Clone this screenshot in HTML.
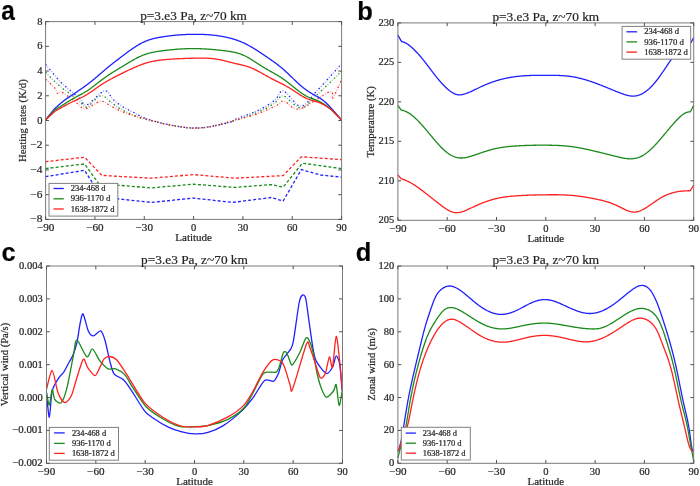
<!DOCTYPE html><html><head><meta charset="utf-8"><style>html,body{margin:0;padding:0;background:#fff;overflow:hidden}svg{display:block}text{font-family:"Liberation Serif",serif;stroke:#333;stroke-width:0.22px}</style></head><body>
<svg width="700" height="486" viewBox="0 0 700 486" style="will-change:transform">
<rect width="700" height="486" fill="#fff"/>
<g>
<path d="M45.6 64.3 C46.85 65.82 50.52 70.37 53.1 73.4 C55.68 76.43 58.25 79.65 61.1 82.5 C63.95 85.35 67.17 87.92 70.2 90.5 C73.23 93.08 76.53 95.62 79.3 98 C82.07 100.38 82.6 106 86.8 104.8 C91 103.6 100.15 91.72 104.5 90.8 C108.85 89.88 109.97 96.7 112.9 99.3 C115.83 101.9 118.77 104.27 122.1 106.4 C125.43 108.53 129.2 110.18 132.9 112.1 C136.6 114.02 139.78 116.13 144.3 117.9 C148.82 119.67 154.55 121.32 160 122.7 C165.45 124.08 171.42 125.32 177 126.2 C182.58 127.08 188 127.93 193.5 128 C199 128.07 203.92 127.57 210 126.6 C216.08 125.63 225.48 123.53 230 122.2 C234.52 120.87 233.05 120.28 237.1 118.6 C241.15 116.92 249.53 114.13 254.3 112.1 C259.07 110.07 262.13 108.53 265.7 106.4 C269.27 104.27 272.72 101.87 275.7 99.3 C278.68 96.73 279.4 89.85 283.6 91 C287.8 92.15 295.37 106.2 300.9 106.2 C306.43 106.2 310.32 97.73 316.8 91 C323.28 84.27 335.68 70.33 339.8 65.8 C343.92 61.27 341.22 64.13 341.5 63.8" stroke="#2020ff" stroke-width="1.3" fill="none" stroke-dasharray="1.5 4.4"/>
<path d="M45.6 64.3 C46.85 65.82 50.52 70.37 53.1 73.4 C55.68 76.43 58.25 79.65 61.1 82.5 C63.95 85.35 67.17 87.92 70.2 90.5 C73.23 93.08 76.53 95.62 79.3 98 C82.07 100.38 82.6 106 86.8 104.8 C91 103.6 100.15 91.72 104.5 90.8 C108.85 89.88 109.97 96.7 112.9 99.3 C115.83 101.9 118.77 104.27 122.1 106.4 C125.43 108.53 129.2 110.18 132.9 112.1 C136.6 114.02 139.78 116.13 144.3 117.9 C148.82 119.67 154.55 121.32 160 122.7 C165.45 124.08 171.42 125.32 177 126.2 C182.58 127.08 188 127.93 193.5 128 C199 128.07 203.92 127.57 210 126.6 C216.08 125.63 225.48 123.53 230 122.2 C234.52 120.87 233.05 120.28 237.1 118.6 C241.15 116.92 249.53 114.13 254.3 112.1 C259.07 110.07 262.13 108.53 265.7 106.4 C269.27 104.27 272.72 101.87 275.7 99.3 C278.68 96.73 279.4 89.85 283.6 91 C287.8 92.15 295.37 106.2 300.9 106.2 C306.43 106.2 310.32 97.73 316.8 91 C323.28 84.27 335.68 70.33 339.8 65.8 C343.92 61.27 341.22 64.13 341.5 63.8" stroke="#2020ff" stroke-width="1.3" fill="none" stroke-dasharray="1.2 4.7" stroke-dashoffset="-2.95" opacity="0.4"/>
<path d="M45.6 72.3 C47.03 73.73 51.25 78.13 54.2 80.9 C57.15 83.67 60.18 86.4 63.3 88.9 C66.42 91.4 70.05 93.67 72.9 95.9 C75.75 98.13 78.08 100.45 80.4 102.3 C82.72 104.15 83.4 108.1 86.8 107 C90.2 105.9 96.82 96.52 100.8 95.7 C104.78 94.88 107.5 99.95 110.7 102.1 C113.9 104.25 116.55 106.57 120 108.6 C123.45 110.63 127.58 112.63 131.4 114.3 C135.22 115.97 138.62 117.3 142.9 118.6 C147.18 119.9 151.42 120.82 157.1 122.1 C162.78 123.38 170.93 125.3 177 126.3 C183.07 127.3 188 128.03 193.5 128.1 C199 128.17 204.25 127.62 210 126.7 C215.75 125.78 221.82 124.32 228 122.6 C234.18 120.88 241.05 118.62 247.1 116.4 C253.15 114.18 259.53 111.68 264.3 109.3 C269.07 106.92 272.48 104.32 275.7 102.1 C278.92 99.88 279.4 95.02 283.6 96 C287.8 96.98 295.37 108.17 300.9 108 C306.43 107.83 310.32 100.83 316.8 95 C323.28 89.17 335.68 76.92 339.8 73 C343.92 69.08 341.22 71.75 341.5 71.5" stroke="#1a8a1a" stroke-width="1.3" fill="none" stroke-dasharray="1.5 4.4"/>
<path d="M45.6 72.3 C47.03 73.73 51.25 78.13 54.2 80.9 C57.15 83.67 60.18 86.4 63.3 88.9 C66.42 91.4 70.05 93.67 72.9 95.9 C75.75 98.13 78.08 100.45 80.4 102.3 C82.72 104.15 83.4 108.1 86.8 107 C90.2 105.9 96.82 96.52 100.8 95.7 C104.78 94.88 107.5 99.95 110.7 102.1 C113.9 104.25 116.55 106.57 120 108.6 C123.45 110.63 127.58 112.63 131.4 114.3 C135.22 115.97 138.62 117.3 142.9 118.6 C147.18 119.9 151.42 120.82 157.1 122.1 C162.78 123.38 170.93 125.3 177 126.3 C183.07 127.3 188 128.03 193.5 128.1 C199 128.17 204.25 127.62 210 126.7 C215.75 125.78 221.82 124.32 228 122.6 C234.18 120.88 241.05 118.62 247.1 116.4 C253.15 114.18 259.53 111.68 264.3 109.3 C269.07 106.92 272.48 104.32 275.7 102.1 C278.92 99.88 279.4 95.02 283.6 96 C287.8 96.98 295.37 108.17 300.9 108 C306.43 107.83 310.32 100.83 316.8 95 C323.28 89.17 335.68 76.92 339.8 73 C343.92 69.08 341.22 71.75 341.5 71.5" stroke="#1a8a1a" stroke-width="1.3" fill="none" stroke-dasharray="1.2 4.7" stroke-dashoffset="-2.95" opacity="0.4"/>
<path d="M45.6 79.3 C47.12 80.72 52.73 85.48 54.7 87.8 C56.67 90.12 56.33 92.48 57.4 93.2 C58.47 93.92 59.4 91.65 61.1 92.1 C62.8 92.55 65.1 94.2 67.6 95.9 C70.1 97.6 73.17 100.17 76.1 102.3 C79.03 104.43 81.08 108.87 85.2 108.7 C89.32 108.53 96.43 101.68 100.8 101.3 C105.17 100.92 107.72 104.6 111.4 106.4 C115.08 108.2 118.85 110.43 122.9 112.1 C126.95 113.77 131.18 115.08 135.7 116.4 C140.22 117.72 145 118.68 150 120 C155 121.32 160.7 123.18 165.7 124.3 C170.7 125.42 175.37 126.05 180 126.7 C184.63 127.35 188.5 128.18 193.5 128.2 C198.5 128.22 203.43 128.07 210 126.8 C216.57 125.53 225.52 122.57 232.9 120.6 C240.28 118.63 248.35 116.88 254.3 115 C260.25 113.12 264.55 111.08 268.6 109.3 C272.65 107.52 275.98 105.65 278.6 104.3 C281.22 102.95 280.82 100.42 284.3 101.2 C287.78 101.98 291.93 110.58 299.5 109 C307.07 107.42 324.18 93.5 329.7 91.7 C335.22 89.9 330.67 100.12 332.6 98.2 C334.53 96.28 339.85 83.2 341.3 80.2" stroke="#ff2020" stroke-width="1.3" fill="none" stroke-dasharray="1.5 4.4"/>
<path d="M45.6 79.3 C47.12 80.72 52.73 85.48 54.7 87.8 C56.67 90.12 56.33 92.48 57.4 93.2 C58.47 93.92 59.4 91.65 61.1 92.1 C62.8 92.55 65.1 94.2 67.6 95.9 C70.1 97.6 73.17 100.17 76.1 102.3 C79.03 104.43 81.08 108.87 85.2 108.7 C89.32 108.53 96.43 101.68 100.8 101.3 C105.17 100.92 107.72 104.6 111.4 106.4 C115.08 108.2 118.85 110.43 122.9 112.1 C126.95 113.77 131.18 115.08 135.7 116.4 C140.22 117.72 145 118.68 150 120 C155 121.32 160.7 123.18 165.7 124.3 C170.7 125.42 175.37 126.05 180 126.7 C184.63 127.35 188.5 128.18 193.5 128.2 C198.5 128.22 203.43 128.07 210 126.8 C216.57 125.53 225.52 122.57 232.9 120.6 C240.28 118.63 248.35 116.88 254.3 115 C260.25 113.12 264.55 111.08 268.6 109.3 C272.65 107.52 275.98 105.65 278.6 104.3 C281.22 102.95 280.82 100.42 284.3 101.2 C287.78 101.98 291.93 110.58 299.5 109 C307.07 107.42 324.18 93.5 329.7 91.7 C335.22 89.9 330.67 100.12 332.6 98.2 C334.53 96.28 339.85 83.2 341.3 80.2" stroke="#ff2020" stroke-width="1.3" fill="none" stroke-dasharray="1.2 4.7" stroke-dashoffset="-2.95" opacity="0.4"/>
<path d="M45.5 176.7 L84.6 170.3 L101.8 198 L115.7 198.6 L151.1 202.4 L193.5 198.1 L232.7 202.4 L271.3 197.5 L283.1 201.1 L301.3 169.6 L320.6 175 L341.5 177.1" stroke="#2020ff" stroke-width="1.3" fill="none" stroke-dasharray="3 2.1"/>
<path d="M45.5 168.6 L84.6 163.9 L98.6 183.6 L151.1 187.9 L193.5 184.2 L234.9 187.4 L271.3 184.6 L283.1 187.2 L302.4 163.2 L341.5 168.6" stroke="#1a8a1a" stroke-width="1.3" fill="none" stroke-dasharray="3 2.1"/>
<path d="M45.5 161.7 L84.6 157.2 L101.8 175.4 L151.1 178.2 L193.5 174.6 L234.9 178.2 L283.1 175.6 L301.3 156.8 L341.5 159.6" stroke="#ff2020" stroke-width="1.3" fill="none" stroke-dasharray="3 2.1"/>
<path d="M45.5 120 L54.2 109.2 L54.7 108.73 L55.2 108.27 L55.7 107.8 L56.2 107.34 L56.7 106.87 L57.2 106.41 L57.7 105.95 L58.2 105.5 L58.7 105.05 L59.2 104.6 L59.7 104.16 L60.2 103.73 L60.7 103.3 L61.2 102.87 L61.7 102.45 L62.2 102.04 L62.7 101.64 L63.2 101.24 L63.7 100.86 L64.2 100.47 L64.7 100.1 L65.2 99.73 L65.7 99.37 L66.2 99.01 L66.7 98.65 L67.2 98.3 L67.7 97.96 L68.2 97.61 L68.7 97.27 L69.2 96.94 L69.7 96.6 L70.2 96.27 L70.7 95.93 L71.2 95.6 L71.7 95.27 L72.2 94.94 L72.7 94.6 L73.2 94.27 L73.7 93.94 L74.2 93.61 L74.7 93.27 L75.2 92.94 L75.7 92.6 L76.2 92.27 L76.7 91.93 L77.2 91.6 L77.7 91.26 L78.2 90.92 L78.7 90.58 L79.2 90.24 L79.7 89.9 L80.2 89.55 L80.7 89.21 L81.2 88.86 L81.7 88.51 L82.2 88.16 L82.7 87.81 L83.2 87.45 L83.7 87.1 L84.2 86.74 L84.7 86.38 L85.2 86.02 L85.7 85.65 L86.2 85.28 L86.7 84.91 L87.2 84.54 L87.7 84.17 L88.2 83.79 L88.7 83.41 L89.2 83.03 L89.7 82.64 L90.2 82.25 L90.7 81.86 L91.2 81.47 L91.7 81.07 L92.2 80.67 L92.7 80.27 L93.2 79.86 L93.7 79.45 L94.2 79.04 L94.7 78.63 L95.2 78.21 L95.7 77.79 L96.2 77.36 L96.7 76.94 L97.2 76.51 L97.7 76.08 L98.2 75.65 L98.7 75.22 L99.2 74.79 L99.7 74.36 L100.2 73.92 L100.7 73.49 L101.2 73.06 L101.7 72.62 L102.2 72.19 L102.7 71.76 L103.2 71.33 L103.7 70.9 L104.2 70.47 L104.7 70.05 L105.2 69.62 L105.7 69.2 L106.2 68.78 L106.7 68.36 L107.2 67.95 L107.7 67.53 L108.2 67.12 L108.7 66.71 L109.2 66.31 L109.7 65.9 L110.2 65.5 L110.7 65.09 L111.2 64.69 L111.7 64.3 L112.2 63.9 L112.7 63.5 L113.2 63.11 L113.7 62.72 L114.2 62.33 L114.7 61.94 L115.2 61.55 L115.7 61.16 L116.2 60.77 L116.7 60.39 L117.2 60.01 L117.7 59.62 L118.2 59.24 L118.7 58.86 L119.2 58.48 L119.7 58.1 L120.2 57.72 L120.7 57.34 L121.2 56.96 L121.7 56.58 L122.2 56.2 L122.7 55.83 L123.2 55.45 L123.7 55.07 L124.2 54.7 L124.7 54.32 L125.2 53.94 L125.7 53.57 L126.2 53.2 L126.7 52.83 L127.2 52.45 L127.7 52.09 L128.2 51.72 L128.7 51.35 L129.2 50.99 L129.7 50.63 L130.2 50.27 L130.7 49.91 L131.2 49.56 L131.7 49.21 L132.2 48.86 L132.7 48.52 L133.2 48.17 L133.7 47.84 L134.2 47.5 L134.7 47.17 L135.2 46.84 L135.7 46.52 L136.2 46.2 L136.7 45.89 L137.2 45.58 L137.7 45.28 L138.2 44.98 L138.7 44.68 L139.2 44.39 L139.7 44.11 L140.2 43.83 L140.7 43.56 L141.2 43.29 L141.7 43.03 L142.2 42.78 L142.7 42.53 L143.2 42.29 L143.7 42.05 L144.2 41.83 L144.7 41.6 L145.2 41.39 L145.7 41.18 L146.2 40.98 L146.7 40.78 L147.2 40.59 L147.7 40.41 L148.2 40.23 L148.7 40.05 L149.2 39.89 L149.7 39.72 L150.2 39.56 L150.7 39.41 L151.2 39.26 L151.7 39.12 L152.2 38.98 L152.7 38.85 L153.2 38.71 L153.7 38.59 L154.2 38.46 L154.7 38.35 L155.2 38.23 L155.7 38.12 L156.2 38.01 L156.7 37.9 L157.2 37.8 L157.7 37.7 L158.2 37.6 L158.7 37.51 L159.2 37.42 L159.7 37.33 L160.2 37.24 L160.7 37.16 L161.2 37.07 L161.7 36.99 L162.2 36.91 L162.7 36.83 L163.2 36.75 L163.7 36.68 L164.2 36.6 L164.7 36.53 L165.2 36.46 L165.7 36.38 L166.2 36.31 L166.7 36.25 L167.2 36.18 L167.7 36.11 L168.2 36.05 L168.7 35.98 L169.2 35.92 L169.7 35.86 L170.2 35.8 L170.7 35.74 L171.2 35.68 L171.7 35.62 L172.2 35.57 L172.7 35.51 L173.2 35.46 L173.7 35.41 L174.2 35.36 L174.7 35.31 L175.2 35.26 L175.7 35.21 L176.2 35.17 L176.7 35.12 L177.2 35.08 L177.7 35.03 L178.2 34.99 L178.7 34.95 L179.2 34.91 L179.7 34.88 L180.2 34.84 L180.7 34.81 L181.2 34.77 L181.7 34.74 L182.2 34.71 L182.7 34.68 L183.2 34.65 L183.7 34.62 L184.2 34.59 L184.7 34.57 L185.2 34.54 L185.7 34.52 L186.2 34.49 L186.7 34.47 L187.2 34.45 L187.7 34.43 L188.2 34.42 L188.7 34.4 L189.2 34.39 L189.7 34.37 L190.2 34.36 L190.7 34.35 L191.2 34.33 L191.7 34.33 L192.2 34.32 L192.7 34.31 L193.2 34.3 L193.7 34.3 L194.2 34.29 L194.7 34.29 L195.2 34.29 L195.7 34.29 L196.2 34.29 L196.7 34.29 L197.2 34.3 L197.7 34.3 L198.2 34.31 L198.7 34.31 L199.2 34.32 L199.7 34.33 L200.2 34.34 L200.7 34.36 L201.2 34.37 L201.7 34.39 L202.2 34.4 L202.7 34.42 L203.2 34.44 L203.7 34.46 L204.2 34.48 L204.7 34.51 L205.2 34.53 L205.7 34.56 L206.2 34.59 L206.7 34.62 L207.2 34.65 L207.7 34.69 L208.2 34.72 L208.7 34.76 L209.2 34.8 L209.7 34.84 L210.2 34.88 L210.7 34.92 L211.2 34.97 L211.7 35.02 L212.2 35.07 L212.7 35.12 L213.2 35.17 L213.7 35.22 L214.2 35.28 L214.7 35.34 L215.2 35.4 L215.7 35.46 L216.2 35.52 L216.7 35.59 L217.2 35.66 L217.7 35.73 L218.2 35.8 L218.7 35.87 L219.2 35.95 L219.7 36.03 L220.2 36.11 L220.7 36.19 L221.2 36.27 L221.7 36.36 L222.2 36.45 L222.7 36.54 L223.2 36.63 L223.7 36.72 L224.2 36.82 L224.7 36.92 L225.2 37.02 L225.7 37.12 L226.2 37.23 L226.7 37.34 L227.2 37.45 L227.7 37.56 L228.2 37.68 L228.7 37.8 L229.2 37.92 L229.7 38.04 L230.2 38.17 L230.7 38.3 L231.2 38.44 L231.7 38.57 L232.2 38.71 L232.7 38.86 L233.2 39 L233.7 39.15 L234.2 39.3 L234.7 39.46 L235.2 39.62 L235.7 39.78 L236.2 39.95 L236.7 40.12 L237.2 40.3 L237.7 40.47 L238.2 40.66 L238.7 40.84 L239.2 41.03 L239.7 41.23 L240.2 41.43 L240.7 41.63 L241.2 41.84 L241.7 42.05 L242.2 42.26 L242.7 42.48 L243.2 42.71 L243.7 42.94 L244.2 43.17 L244.7 43.41 L245.2 43.65 L245.7 43.9 L246.2 44.15 L246.7 44.41 L247.2 44.67 L247.7 44.93 L248.2 45.2 L248.7 45.47 L249.2 45.74 L249.7 46.02 L250.2 46.3 L250.7 46.58 L251.2 46.87 L251.7 47.16 L252.2 47.46 L252.7 47.75 L253.2 48.05 L253.7 48.36 L254.2 48.66 L254.7 48.97 L255.2 49.28 L255.7 49.59 L256.2 49.91 L256.7 50.22 L257.2 50.54 L257.7 50.87 L258.2 51.19 L258.7 51.51 L259.2 51.84 L259.7 52.17 L260.2 52.5 L260.7 52.83 L261.2 53.16 L261.7 53.5 L262.2 53.84 L262.7 54.17 L263.2 54.51 L263.7 54.85 L264.2 55.19 L264.7 55.53 L265.2 55.87 L265.7 56.21 L266.2 56.55 L266.7 56.89 L267.2 57.24 L267.7 57.58 L268.2 57.92 L268.7 58.27 L269.2 58.61 L269.7 58.96 L270.2 59.3 L270.7 59.65 L271.2 60 L271.7 60.35 L272.2 60.7 L272.7 61.06 L273.2 61.41 L273.7 61.77 L274.2 62.13 L274.7 62.5 L275.2 62.86 L275.7 63.23 L276.2 63.6 L276.7 63.98 L277.2 64.36 L277.7 64.74 L278.2 65.12 L278.7 65.51 L279.2 65.91 L279.7 66.3 L280.2 66.71 L280.7 67.11 L281.2 67.52 L281.7 67.94 L282.2 68.36 L282.7 68.78 L283.2 69.21 L283.7 69.65 L284.2 70.09 L284.7 70.54 L285.2 70.99 L285.7 71.44 L286.2 71.91 L286.7 72.37 L287.2 72.84 L287.7 73.31 L288.2 73.79 L288.7 74.27 L289.2 74.75 L289.7 75.23 L290.2 75.71 L290.7 76.2 L291.2 76.68 L291.7 77.17 L292.2 77.66 L292.7 78.14 L293.2 78.63 L293.7 79.11 L294.2 79.6 L294.7 80.08 L295.2 80.56 L295.7 81.03 L296.2 81.51 L296.7 81.98 L297.2 82.45 L297.7 82.91 L298.2 83.37 L298.7 83.82 L299.2 84.27 L299.7 84.72 L300.2 85.16 L300.7 85.59 L301.2 86.02 L301.7 86.43 L302.2 86.85 L302.7 87.25 L303.2 87.65 L303.7 88.04 L304.2 88.43 L304.7 88.81 L305.2 89.18 L305.7 89.55 L306.2 89.91 L306.7 90.26 L307.2 90.61 L307.7 90.96 L308.2 91.29 L308.7 91.62 L309.2 91.95 L309.7 92.27 L310.2 92.58 L310.7 92.89 L311.2 93.19 L311.7 93.49 L312.2 93.78 L312.7 94.07 L313.2 94.35 L313.7 94.63 L314.2 94.91 L314.7 95.19 L315.2 95.46 L315.7 95.73 L316.2 96.01 L316.7 96.28 L317.2 96.56 L317.7 96.85 L318.2 97.13 L318.7 97.43 L319.2 97.73 L319.7 98.03 L320.2 98.35 L320.7 98.67 L321.2 99 L321.7 99.35 L322.2 99.71 L322.7 100.07 L323.2 100.46 L323.7 100.85 L324.2 101.27 L324.7 101.7 L325.2 102.14 L325.7 102.59 L326.2 103.06 L326.7 103.55 L327.2 104.04 L327.7 104.54 L328.2 105.05 L328.7 105.57 L329.2 106.1 L329.7 106.63 L330.2 107.17 L330.7 107.71 L331.2 108.26 L331.7 108.81 L332.2 109.36 L332.6 109.8 L341.5 120" stroke="#2020ff" stroke-width="1.3" fill="none"/>
<path d="M45.5 120 L54.6 110.1 L55.1 109.79 L55.6 109.49 L56.1 109.18 L56.6 108.87 L57.1 108.56 L57.6 108.25 L58.1 107.95 L58.6 107.64 L59.1 107.33 L59.6 107.02 L60.1 106.71 L60.6 106.39 L61.1 106.08 L61.6 105.77 L62.1 105.45 L62.6 105.14 L63.1 104.82 L63.6 104.5 L64.1 104.18 L64.6 103.86 L65.1 103.55 L65.6 103.23 L66.1 102.91 L66.6 102.59 L67.1 102.27 L67.6 101.96 L68.1 101.65 L68.6 101.33 L69.1 101.02 L69.6 100.72 L70.1 100.41 L70.6 100.11 L71.1 99.81 L71.6 99.51 L72.1 99.22 L72.6 98.93 L73.1 98.64 L73.6 98.36 L74.1 98.08 L74.6 97.81 L75.1 97.54 L75.6 97.27 L76.1 97 L76.6 96.74 L77.1 96.48 L77.6 96.21 L78.1 95.95 L78.6 95.69 L79.1 95.43 L79.6 95.17 L80.1 94.9 L80.6 94.64 L81.1 94.37 L81.6 94.1 L82.1 93.83 L82.6 93.55 L83.1 93.27 L83.6 92.99 L84.1 92.7 L84.6 92.41 L85.1 92.11 L85.6 91.81 L86.1 91.5 L86.6 91.19 L87.1 90.87 L87.6 90.54 L88.1 90.2 L88.6 89.86 L89.1 89.51 L89.6 89.16 L90.1 88.8 L90.6 88.43 L91.1 88.06 L91.6 87.69 L92.1 87.31 L92.6 86.93 L93.1 86.55 L93.6 86.17 L94.1 85.78 L94.6 85.39 L95.1 85 L95.6 84.61 L96.1 84.22 L96.6 83.83 L97.1 83.43 L97.6 83.04 L98.1 82.66 L98.6 82.27 L99.1 81.88 L99.6 81.5 L100.1 81.12 L100.6 80.74 L101.1 80.37 L101.6 80 L102.1 79.63 L102.6 79.26 L103.1 78.9 L103.6 78.54 L104.1 78.18 L104.6 77.82 L105.1 77.47 L105.6 77.12 L106.1 76.77 L106.6 76.42 L107.1 76.08 L107.6 75.74 L108.1 75.4 L108.6 75.06 L109.1 74.73 L109.6 74.4 L110.1 74.07 L110.6 73.74 L111.1 73.42 L111.6 73.09 L112.1 72.77 L112.6 72.45 L113.1 72.14 L113.6 71.82 L114.1 71.51 L114.6 71.2 L115.1 70.89 L115.6 70.58 L116.1 70.27 L116.6 69.97 L117.1 69.66 L117.6 69.36 L118.1 69.06 L118.6 68.75 L119.1 68.45 L119.6 68.15 L120.1 67.85 L120.6 67.55 L121.1 67.25 L121.6 66.94 L122.1 66.64 L122.6 66.34 L123.1 66.04 L123.6 65.74 L124.1 65.43 L124.6 65.13 L125.1 64.83 L125.6 64.52 L126.1 64.22 L126.6 63.92 L127.1 63.62 L127.6 63.32 L128.1 63.01 L128.6 62.72 L129.1 62.42 L129.6 62.12 L130.1 61.83 L130.6 61.53 L131.1 61.24 L131.6 60.95 L132.1 60.66 L132.6 60.38 L133.1 60.09 L133.6 59.81 L134.1 59.54 L134.6 59.26 L135.1 58.99 L135.6 58.72 L136.1 58.46 L136.6 58.2 L137.1 57.94 L137.6 57.69 L138.1 57.44 L138.6 57.19 L139.1 56.95 L139.6 56.71 L140.1 56.48 L140.6 56.25 L141.1 56.03 L141.6 55.81 L142.1 55.6 L142.6 55.4 L143.1 55.2 L143.6 55 L144.1 54.81 L144.6 54.63 L145.1 54.45 L145.6 54.28 L146.1 54.11 L146.6 53.95 L147.1 53.79 L147.6 53.64 L148.1 53.49 L148.6 53.35 L149.1 53.21 L149.6 53.08 L150.1 52.95 L150.6 52.83 L151.1 52.71 L151.6 52.59 L152.1 52.48 L152.6 52.37 L153.1 52.26 L153.6 52.16 L154.1 52.06 L154.6 51.96 L155.1 51.87 L155.6 51.78 L156.1 51.69 L156.6 51.61 L157.1 51.52 L157.6 51.44 L158.1 51.37 L158.6 51.29 L159.1 51.22 L159.6 51.14 L160.1 51.07 L160.6 51 L161.1 50.94 L161.6 50.87 L162.1 50.8 L162.6 50.74 L163.1 50.67 L163.6 50.61 L164.1 50.55 L164.6 50.49 L165.1 50.43 L165.6 50.37 L166.1 50.31 L166.6 50.25 L167.1 50.19 L167.6 50.14 L168.1 50.08 L168.6 50.03 L169.1 49.97 L169.6 49.92 L170.1 49.87 L170.6 49.82 L171.1 49.77 L171.6 49.72 L172.1 49.67 L172.6 49.62 L173.1 49.57 L173.6 49.53 L174.1 49.48 L174.6 49.44 L175.1 49.4 L175.6 49.35 L176.1 49.31 L176.6 49.27 L177.1 49.24 L177.6 49.2 L178.1 49.16 L178.6 49.13 L179.1 49.09 L179.6 49.06 L180.1 49.03 L180.6 48.99 L181.1 48.96 L181.6 48.94 L182.1 48.91 L182.6 48.88 L183.1 48.86 L183.6 48.83 L184.1 48.81 L184.6 48.79 L185.1 48.76 L185.6 48.74 L186.1 48.73 L186.6 48.71 L187.1 48.69 L187.6 48.68 L188.1 48.66 L188.6 48.65 L189.1 48.64 L189.6 48.63 L190.1 48.62 L190.6 48.62 L191.1 48.61 L191.6 48.61 L192.1 48.6 L192.6 48.6 L193.1 48.6 L193.6 48.6 L194.1 48.6 L194.6 48.61 L195.1 48.61 L195.6 48.62 L196.1 48.62 L196.6 48.63 L197.1 48.64 L197.6 48.65 L198.1 48.67 L198.6 48.68 L199.1 48.69 L199.6 48.71 L200.1 48.73 L200.6 48.75 L201.1 48.77 L201.6 48.79 L202.1 48.81 L202.6 48.83 L203.1 48.86 L203.6 48.88 L204.1 48.91 L204.6 48.94 L205.1 48.96 L205.6 48.99 L206.1 49.02 L206.6 49.06 L207.1 49.09 L207.6 49.12 L208.1 49.16 L208.6 49.19 L209.1 49.23 L209.6 49.27 L210.1 49.3 L210.6 49.34 L211.1 49.38 L211.6 49.43 L212.1 49.47 L212.6 49.51 L213.1 49.55 L213.6 49.6 L214.1 49.64 L214.6 49.69 L215.1 49.74 L215.6 49.78 L216.1 49.83 L216.6 49.88 L217.1 49.93 L217.6 49.98 L218.1 50.03 L218.6 50.09 L219.1 50.14 L219.6 50.19 L220.1 50.25 L220.6 50.3 L221.1 50.36 L221.6 50.41 L222.1 50.47 L222.6 50.53 L223.1 50.58 L223.6 50.64 L224.1 50.7 L224.6 50.76 L225.1 50.82 L225.6 50.88 L226.1 50.94 L226.6 51.01 L227.1 51.07 L227.6 51.14 L228.1 51.21 L228.6 51.28 L229.1 51.35 L229.6 51.42 L230.1 51.5 L230.6 51.58 L231.1 51.67 L231.6 51.75 L232.1 51.84 L232.6 51.94 L233.1 52.03 L233.6 52.14 L234.1 52.24 L234.6 52.35 L235.1 52.47 L235.6 52.59 L236.1 52.71 L236.6 52.84 L237.1 52.97 L237.6 53.11 L238.1 53.26 L238.6 53.41 L239.1 53.57 L239.6 53.73 L240.1 53.9 L240.6 54.08 L241.1 54.26 L241.6 54.45 L242.1 54.65 L242.6 54.86 L243.1 55.07 L243.6 55.29 L244.1 55.52 L244.6 55.75 L245.1 56 L245.6 56.25 L246.1 56.5 L246.6 56.76 L247.1 57.03 L247.6 57.31 L248.1 57.59 L248.6 57.87 L249.1 58.16 L249.6 58.46 L250.1 58.75 L250.6 59.06 L251.1 59.36 L251.6 59.67 L252.1 59.99 L252.6 60.3 L253.1 60.62 L253.6 60.94 L254.1 61.26 L254.6 61.58 L255.1 61.91 L255.6 62.23 L256.1 62.56 L256.6 62.89 L257.1 63.21 L257.6 63.54 L258.1 63.87 L258.6 64.19 L259.1 64.52 L259.6 64.84 L260.1 65.16 L260.6 65.48 L261.1 65.8 L261.6 66.12 L262.1 66.43 L262.6 66.74 L263.1 67.04 L263.6 67.35 L264.1 67.65 L264.6 67.94 L265.1 68.24 L265.6 68.53 L266.1 68.82 L266.6 69.11 L267.1 69.39 L267.6 69.68 L268.1 69.96 L268.6 70.24 L269.1 70.52 L269.6 70.8 L270.1 71.08 L270.6 71.36 L271.1 71.64 L271.6 71.92 L272.1 72.2 L272.6 72.48 L273.1 72.76 L273.6 73.05 L274.1 73.33 L274.6 73.62 L275.1 73.9 L275.6 74.19 L276.1 74.48 L276.6 74.78 L277.1 75.07 L277.6 75.37 L278.1 75.67 L278.6 75.98 L279.1 76.29 L279.6 76.6 L280.1 76.91 L280.6 77.23 L281.1 77.56 L281.6 77.88 L282.1 78.22 L282.6 78.55 L283.1 78.9 L283.6 79.25 L284.1 79.6 L284.6 79.96 L285.1 80.32 L285.6 80.69 L286.1 81.07 L286.6 81.45 L287.1 81.83 L287.6 82.22 L288.1 82.61 L288.6 83 L289.1 83.4 L289.6 83.8 L290.1 84.2 L290.6 84.6 L291.1 85 L291.6 85.4 L292.1 85.81 L292.6 86.21 L293.1 86.62 L293.6 87.02 L294.1 87.43 L294.6 87.83 L295.1 88.23 L295.6 88.63 L296.1 89.02 L296.6 89.42 L297.1 89.81 L297.6 90.2 L298.1 90.58 L298.6 90.96 L299.1 91.34 L299.6 91.71 L300.1 92.08 L300.6 92.44 L301.1 92.79 L301.6 93.14 L302.1 93.49 L302.6 93.82 L303.1 94.15 L303.6 94.48 L304.1 94.79 L304.6 95.1 L305.1 95.4 L305.6 95.69 L306.1 95.97 L306.6 96.24 L307.1 96.5 L307.6 96.75 L308.1 96.99 L308.6 97.22 L309.1 97.45 L309.6 97.66 L310.1 97.87 L310.6 98.07 L311.1 98.26 L311.6 98.45 L312.1 98.64 L312.6 98.82 L313.1 99 L313.6 99.19 L314.1 99.37 L314.6 99.55 L315.1 99.73 L315.6 99.92 L316.1 100.11 L316.6 100.3 L317.1 100.5 L317.6 100.7 L318.1 100.91 L318.6 101.13 L319.1 101.36 L319.6 101.59 L320.1 101.84 L320.6 102.1 L321.1 102.37 L321.6 102.65 L322.1 102.94 L322.6 103.25 L323.1 103.56 L323.6 103.88 L324.1 104.21 L324.6 104.55 L325.1 104.9 L325.6 105.25 L326.1 105.61 L326.6 105.98 L327.1 106.35 L327.6 106.73 L328.1 107.11 L328.6 107.49 L329.1 107.88 L329.6 108.27 L330.1 108.66 L330.6 109.05 L331.1 109.44 L331.3 109.6 L341.5 120" stroke="#1a8a1a" stroke-width="1.3" fill="none"/>
<path d="M45.5 120 L55 111.3 L55.5 111.01 L56 110.72 L56.5 110.43 L57 110.14 L57.5 109.85 L58 109.56 L58.5 109.28 L59 108.99 L59.5 108.7 L60 108.42 L60.5 108.13 L61 107.85 L61.5 107.56 L62 107.28 L62.5 107 L63 106.72 L63.5 106.44 L64 106.17 L64.5 105.89 L65 105.62 L65.5 105.35 L66 105.08 L66.5 104.81 L67 104.54 L67.5 104.27 L68 104.01 L68.5 103.75 L69 103.49 L69.5 103.23 L70 102.98 L70.5 102.73 L71 102.48 L71.5 102.23 L72 101.98 L72.5 101.74 L73 101.5 L73.5 101.26 L74 101.03 L74.5 100.79 L75 100.56 L75.5 100.33 L76 100.1 L76.5 99.87 L77 99.64 L77.5 99.41 L78 99.18 L78.5 98.94 L79 98.71 L79.5 98.47 L80 98.24 L80.5 98 L81 97.76 L81.5 97.51 L82 97.26 L82.5 97.01 L83 96.75 L83.5 96.49 L84 96.22 L84.5 95.95 L85 95.67 L85.5 95.39 L86 95.1 L86.5 94.8 L87 94.5 L87.5 94.19 L88 93.88 L88.5 93.56 L89 93.23 L89.5 92.91 L90 92.57 L90.5 92.24 L91 91.9 L91.5 91.55 L92 91.21 L92.5 90.86 L93 90.51 L93.5 90.16 L94 89.81 L94.5 89.46 L95 89.1 L95.5 88.75 L96 88.4 L96.5 88.04 L97 87.69 L97.5 87.34 L98 87 L98.5 86.65 L99 86.31 L99.5 85.97 L100 85.63 L100.5 85.3 L101 84.97 L101.5 84.64 L102 84.32 L102.5 84 L103 83.68 L103.5 83.37 L104 83.05 L104.5 82.75 L105 82.44 L105.5 82.14 L106 81.84 L106.5 81.54 L107 81.25 L107.5 80.96 L108 80.67 L108.5 80.38 L109 80.1 L109.5 79.82 L110 79.54 L110.5 79.26 L111 78.99 L111.5 78.72 L112 78.45 L112.5 78.18 L113 77.91 L113.5 77.65 L114 77.39 L114.5 77.13 L115 76.87 L115.5 76.62 L116 76.36 L116.5 76.11 L117 75.86 L117.5 75.61 L118 75.36 L118.5 75.11 L119 74.86 L119.5 74.61 L120 74.37 L120.5 74.12 L121 73.88 L121.5 73.63 L122 73.39 L122.5 73.14 L123 72.9 L123.5 72.66 L124 72.41 L124.5 72.17 L125 71.93 L125.5 71.68 L126 71.44 L126.5 71.2 L127 70.96 L127.5 70.72 L128 70.48 L128.5 70.24 L129 70 L129.5 69.76 L130 69.53 L130.5 69.29 L131 69.06 L131.5 68.82 L132 68.59 L132.5 68.36 L133 68.14 L133.5 67.91 L134 67.69 L134.5 67.46 L135 67.24 L135.5 67.03 L136 66.81 L136.5 66.6 L137 66.38 L137.5 66.17 L138 65.97 L138.5 65.76 L139 65.56 L139.5 65.36 L140 65.17 L140.5 64.97 L141 64.78 L141.5 64.6 L142 64.41 L142.5 64.23 L143 64.05 L143.5 63.88 L144 63.71 L144.5 63.54 L145 63.37 L145.5 63.21 L146 63.06 L146.5 62.91 L147 62.76 L147.5 62.61 L148 62.47 L148.5 62.34 L149 62.2 L149.5 62.08 L150 61.95 L150.5 61.83 L151 61.71 L151.5 61.6 L152 61.49 L152.5 61.39 L153 61.28 L153.5 61.18 L154 61.09 L154.5 61 L155 60.91 L155.5 60.82 L156 60.74 L156.5 60.66 L157 60.58 L157.5 60.5 L158 60.43 L158.5 60.36 L159 60.29 L159.5 60.23 L160 60.16 L160.5 60.1 L161 60.04 L161.5 59.99 L162 59.93 L162.5 59.88 L163 59.83 L163.5 59.78 L164 59.73 L164.5 59.68 L165 59.64 L165.5 59.6 L166 59.55 L166.5 59.51 L167 59.47 L167.5 59.43 L168 59.39 L168.5 59.36 L169 59.32 L169.5 59.29 L170 59.25 L170.5 59.22 L171 59.18 L171.5 59.15 L172 59.12 L172.5 59.09 L173 59.05 L173.5 59.02 L174 58.99 L174.5 58.96 L175 58.93 L175.5 58.91 L176 58.88 L176.5 58.85 L177 58.82 L177.5 58.8 L178 58.77 L178.5 58.75 L179 58.72 L179.5 58.7 L180 58.68 L180.5 58.65 L181 58.63 L181.5 58.61 L182 58.59 L182.5 58.56 L183 58.54 L183.5 58.52 L184 58.5 L184.5 58.48 L185 58.47 L185.5 58.45 L186 58.43 L186.5 58.41 L187 58.39 L187.5 58.38 L188 58.36 L188.5 58.34 L189 58.33 L189.5 58.31 L190 58.3 L190.5 58.28 L191 58.27 L191.5 58.25 L192 58.24 L192.5 58.23 L193 58.21 L193.5 58.2 L194 58.19 L194.5 58.18 L195 58.16 L195.5 58.15 L196 58.14 L196.5 58.13 L197 58.12 L197.5 58.11 L198 58.11 L198.5 58.1 L199 58.09 L199.5 58.09 L200 58.09 L200.5 58.08 L201 58.08 L201.5 58.08 L202 58.08 L202.5 58.09 L203 58.09 L203.5 58.1 L204 58.11 L204.5 58.12 L205 58.13 L205.5 58.15 L206 58.16 L206.5 58.18 L207 58.2 L207.5 58.22 L208 58.25 L208.5 58.28 L209 58.31 L209.5 58.34 L210 58.37 L210.5 58.41 L211 58.45 L211.5 58.5 L212 58.54 L212.5 58.59 L213 58.64 L213.5 58.7 L214 58.76 L214.5 58.82 L215 58.89 L215.5 58.95 L216 59.03 L216.5 59.1 L217 59.18 L217.5 59.27 L218 59.35 L218.5 59.44 L219 59.54 L219.5 59.64 L220 59.74 L220.5 59.84 L221 59.95 L221.5 60.06 L222 60.17 L222.5 60.28 L223 60.4 L223.5 60.52 L224 60.64 L224.5 60.76 L225 60.88 L225.5 61.01 L226 61.14 L226.5 61.26 L227 61.39 L227.5 61.52 L228 61.65 L228.5 61.78 L229 61.91 L229.5 62.04 L230 62.17 L230.5 62.3 L231 62.43 L231.5 62.56 L232 62.68 L232.5 62.81 L233 62.94 L233.5 63.06 L234 63.18 L234.5 63.3 L235 63.42 L235.5 63.54 L236 63.66 L236.5 63.77 L237 63.88 L237.5 64 L238 64.11 L238.5 64.22 L239 64.33 L239.5 64.45 L240 64.56 L240.5 64.67 L241 64.79 L241.5 64.91 L242 65.02 L242.5 65.14 L243 65.27 L243.5 65.39 L244 65.52 L244.5 65.65 L245 65.79 L245.5 65.93 L246 66.07 L246.5 66.22 L247 66.37 L247.5 66.53 L248 66.69 L248.5 66.86 L249 67.03 L249.5 67.21 L250 67.4 L250.5 67.59 L251 67.79 L251.5 68 L252 68.21 L252.5 68.43 L253 68.65 L253.5 68.88 L254 69.11 L254.5 69.35 L255 69.59 L255.5 69.83 L256 70.09 L256.5 70.34 L257 70.6 L257.5 70.86 L258 71.12 L258.5 71.39 L259 71.66 L259.5 71.93 L260 72.21 L260.5 72.48 L261 72.76 L261.5 73.04 L262 73.32 L262.5 73.6 L263 73.89 L263.5 74.17 L264 74.45 L264.5 74.74 L265 75.02 L265.5 75.31 L266 75.59 L266.5 75.87 L267 76.15 L267.5 76.43 L268 76.71 L268.5 76.98 L269 77.26 L269.5 77.53 L270 77.8 L270.5 78.07 L271 78.33 L271.5 78.59 L272 78.85 L272.5 79.11 L273 79.37 L273.5 79.62 L274 79.87 L274.5 80.13 L275 80.38 L275.5 80.63 L276 80.87 L276.5 81.12 L277 81.37 L277.5 81.62 L278 81.87 L278.5 82.12 L279 82.36 L279.5 82.61 L280 82.86 L280.5 83.11 L281 83.37 L281.5 83.62 L282 83.87 L282.5 84.13 L283 84.39 L283.5 84.65 L284 84.91 L284.5 85.18 L285 85.44 L285.5 85.71 L286 85.99 L286.5 86.26 L287 86.54 L287.5 86.83 L288 87.11 L288.5 87.4 L289 87.7 L289.5 88 L290 88.3 L290.5 88.61 L291 88.92 L291.5 89.24 L292 89.55 L292.5 89.88 L293 90.2 L293.5 90.53 L294 90.86 L294.5 91.18 L295 91.51 L295.5 91.85 L296 92.18 L296.5 92.51 L297 92.84 L297.5 93.16 L298 93.49 L298.5 93.81 L299 94.14 L299.5 94.45 L300 94.77 L300.5 95.08 L301 95.39 L301.5 95.69 L302 95.99 L302.5 96.28 L303 96.57 L303.5 96.85 L304 97.12 L304.5 97.39 L305 97.65 L305.5 97.9 L306 98.14 L306.5 98.38 L307 98.6 L307.5 98.82 L308 99.02 L308.5 99.22 L309 99.4 L309.5 99.58 L310 99.75 L310.5 99.92 L311 100.08 L311.5 100.23 L312 100.38 L312.5 100.53 L313 100.68 L313.5 100.82 L314 100.97 L314.5 101.11 L315 101.25 L315.5 101.4 L316 101.55 L316.5 101.7 L317 101.86 L317.5 102.02 L318 102.19 L318.5 102.37 L319 102.55 L319.5 102.74 L320 102.94 L320.5 103.16 L321 103.38 L321.5 103.61 L322 103.86 L322.5 104.11 L323 104.37 L323.5 104.64 L324 104.92 L324.5 105.21 L325 105.5 L325.5 105.8 L326 106.11 L326.5 106.42 L327 106.74 L327.5 107.06 L328 107.39 L328.5 107.72 L329 108.05 L329.5 108.38 L330 108.72 L330.5 109.06 L331 109.4 L331.3 109.6 L341.5 120" stroke="#ff2020" stroke-width="1.3" fill="none"/>
</g>
<rect x="45.6" y="21.6" width="296" height="197.8" fill="none" stroke="#7a7a7a" stroke-width="1"/>
<path d="M45.6 219.4 v-3.3 M45.6 21.6 v3.3 M94.93 219.4 v-3.3 M94.93 21.6 v3.3 M144.27 219.4 v-3.3 M144.27 21.6 v3.3 M193.6 219.4 v-3.3 M193.6 21.6 v3.3 M242.93 219.4 v-3.3 M242.93 21.6 v3.3 M292.27 219.4 v-3.3 M292.27 21.6 v3.3 M341.6 219.4 v-3.3 M341.6 21.6 v3.3 M45.6 21.6 h3.3 M341.6 21.6 h-3.3 M45.6 46.33 h3.3 M341.6 46.33 h-3.3 M45.6 71.05 h3.3 M341.6 71.05 h-3.3 M45.6 95.78 h3.3 M341.6 95.78 h-3.3 M45.6 120.5 h3.3 M341.6 120.5 h-3.3 M45.6 145.22 h3.3 M341.6 145.22 h-3.3 M45.6 169.95 h3.3 M341.6 169.95 h-3.3 M45.6 194.68 h3.3 M341.6 194.68 h-3.3 M45.6 219.4 h3.3 M341.6 219.4 h-3.3" stroke="#505050" stroke-width="1" fill="none"/>
<rect x="49" y="183.4" width="68.8" height="32.7" fill="#fff" stroke="#808080" stroke-width="1"/>
<path d="M53.5 188.5 H63.8" stroke="#2020ff" stroke-width="1.3"/>
<text x="70.8" y="191.1" font-size="7.4" text-anchor="start" textLength="34.8" lengthAdjust="spacingAndGlyphs" fill="#222">234-468 d</text>
<path d="M53.5 198.8 H63.8" stroke="#1a8a1a" stroke-width="1.3"/>
<text x="70.8" y="201.4" font-size="7.4" text-anchor="start" textLength="39.6" lengthAdjust="spacingAndGlyphs" fill="#222">936-1170 d</text>
<path d="M53.5 209 H63.8" stroke="#ff2020" stroke-width="1.3"/>
<text x="70.8" y="211.6" font-size="7.4" text-anchor="start" textLength="43.7" lengthAdjust="spacingAndGlyphs" fill="#222">1638-1872 d</text>
<path d="M397.9 35 L401.4 41.4 L401.9 41.55 L402.4 41.7 L402.9 41.86 L403.4 42.03 L403.9 42.21 L404.4 42.41 L404.9 42.64 L405.4 42.88 L405.9 43.14 L406.4 43.43 L406.9 43.73 L407.4 44.05 L407.9 44.39 L408.4 44.74 L408.9 45.11 L409.4 45.49 L409.9 45.89 L410.4 46.29 L410.9 46.71 L411.4 47.15 L411.9 47.59 L412.4 48.04 L412.9 48.5 L413.4 48.97 L413.9 49.45 L414.4 49.94 L414.9 50.43 L415.4 50.94 L415.9 51.45 L416.4 51.98 L416.9 52.51 L417.4 53.05 L417.9 53.6 L418.4 54.15 L418.9 54.71 L419.4 55.28 L419.9 55.86 L420.4 56.44 L420.9 57.03 L421.4 57.63 L421.9 58.23 L422.4 58.84 L422.9 59.46 L423.4 60.07 L423.9 60.7 L424.4 61.33 L424.9 61.97 L425.4 62.6 L425.9 63.25 L426.4 63.9 L426.9 64.55 L427.4 65.2 L427.9 65.85 L428.4 66.51 L428.9 67.17 L429.4 67.83 L429.9 68.49 L430.4 69.15 L430.9 69.81 L431.4 70.47 L431.9 71.12 L432.4 71.78 L432.9 72.44 L433.4 73.09 L433.9 73.74 L434.4 74.39 L434.9 75.03 L435.4 75.67 L435.9 76.3 L436.4 76.93 L436.9 77.56 L437.4 78.18 L437.9 78.79 L438.4 79.4 L438.9 80 L439.4 80.59 L439.9 81.18 L440.4 81.76 L440.9 82.33 L441.4 82.89 L441.9 83.44 L442.4 83.99 L442.9 84.52 L443.4 85.05 L443.9 85.56 L444.4 86.07 L444.9 86.57 L445.4 87.05 L445.9 87.53 L446.4 87.99 L446.9 88.45 L447.4 88.89 L447.9 89.32 L448.4 89.74 L448.9 90.15 L449.4 90.55 L449.9 90.93 L450.4 91.3 L450.9 91.65 L451.4 91.99 L451.9 92.32 L452.4 92.63 L452.9 92.92 L453.4 93.2 L453.9 93.45 L454.4 93.69 L454.9 93.91 L455.4 94.1 L455.9 94.28 L456.4 94.43 L456.9 94.56 L457.4 94.66 L457.9 94.74 L458.4 94.8 L458.9 94.83 L459.4 94.85 L459.9 94.85 L460.4 94.82 L460.9 94.78 L461.4 94.72 L461.9 94.65 L462.4 94.56 L462.9 94.45 L463.4 94.34 L463.9 94.21 L464.4 94.07 L464.9 93.92 L465.4 93.75 L465.9 93.59 L466.4 93.41 L466.9 93.23 L467.4 93.04 L467.9 92.84 L468.4 92.64 L468.9 92.44 L469.4 92.23 L469.9 92.01 L470.4 91.8 L470.9 91.57 L471.4 91.35 L471.9 91.12 L472.4 90.89 L472.9 90.65 L473.4 90.42 L473.9 90.18 L474.4 89.94 L474.9 89.69 L475.4 89.45 L475.9 89.21 L476.4 88.96 L476.9 88.72 L477.4 88.47 L477.9 88.22 L478.4 87.98 L478.9 87.74 L479.4 87.49 L479.9 87.25 L480.4 87.01 L480.9 86.78 L481.4 86.54 L481.9 86.31 L482.4 86.08 L482.9 85.85 L483.4 85.63 L483.9 85.4 L484.4 85.19 L484.9 84.97 L485.4 84.76 L485.9 84.54 L486.4 84.34 L486.9 84.13 L487.4 83.93 L487.9 83.73 L488.4 83.53 L488.9 83.34 L489.4 83.14 L489.9 82.96 L490.4 82.77 L490.9 82.58 L491.4 82.4 L491.9 82.23 L492.4 82.05 L492.9 81.88 L493.4 81.71 L493.9 81.54 L494.4 81.37 L494.9 81.21 L495.4 81.05 L495.9 80.89 L496.4 80.74 L496.9 80.58 L497.4 80.43 L497.9 80.29 L498.4 80.14 L498.9 80 L499.4 79.86 L499.9 79.72 L500.4 79.59 L500.9 79.46 L501.4 79.33 L501.9 79.2 L502.4 79.08 L502.9 78.95 L503.4 78.84 L503.9 78.72 L504.4 78.6 L504.9 78.49 L505.4 78.38 L505.9 78.27 L506.4 78.17 L506.9 78.06 L507.4 77.96 L507.9 77.87 L508.4 77.77 L508.9 77.68 L509.4 77.58 L509.9 77.49 L510.4 77.41 L510.9 77.32 L511.4 77.24 L511.9 77.16 L512.4 77.08 L512.9 77 L513.4 76.93 L513.9 76.85 L514.4 76.78 L514.9 76.72 L515.4 76.65 L515.9 76.58 L516.4 76.52 L516.9 76.46 L517.4 76.4 L517.9 76.35 L518.4 76.29 L518.9 76.24 L519.4 76.19 L519.9 76.14 L520.4 76.09 L520.9 76.05 L521.4 76 L521.9 75.96 L522.4 75.92 L522.9 75.88 L523.4 75.84 L523.9 75.81 L524.4 75.77 L524.9 75.74 L525.4 75.71 L525.9 75.68 L526.4 75.65 L526.9 75.63 L527.4 75.6 L527.9 75.58 L528.4 75.56 L528.9 75.53 L529.4 75.51 L529.9 75.5 L530.4 75.48 L530.9 75.46 L531.4 75.44 L531.9 75.43 L532.4 75.42 L532.9 75.4 L533.4 75.39 L533.9 75.38 L534.4 75.37 L534.9 75.36 L535.4 75.35 L535.9 75.35 L536.4 75.34 L536.9 75.33 L537.4 75.33 L537.9 75.32 L538.4 75.32 L538.9 75.32 L539.4 75.31 L539.9 75.31 L540.4 75.31 L540.9 75.31 L541.4 75.3 L541.9 75.3 L542.4 75.3 L542.9 75.3 L543.4 75.3 L543.9 75.3 L544.4 75.3 L544.9 75.3 L545.4 75.3 L545.9 75.3 L546.4 75.3 L546.9 75.3 L547.4 75.3 L547.9 75.3 L548.4 75.3 L548.9 75.3 L549.4 75.3 L549.9 75.31 L550.4 75.31 L550.9 75.31 L551.4 75.31 L551.9 75.32 L552.4 75.32 L552.9 75.33 L553.4 75.33 L553.9 75.34 L554.4 75.35 L554.9 75.36 L555.4 75.37 L555.9 75.38 L556.4 75.39 L556.9 75.4 L557.4 75.42 L557.9 75.43 L558.4 75.45 L558.9 75.47 L559.4 75.49 L559.9 75.51 L560.4 75.53 L560.9 75.56 L561.4 75.59 L561.9 75.61 L562.4 75.64 L562.9 75.68 L563.4 75.71 L563.9 75.75 L564.4 75.78 L564.9 75.82 L565.4 75.87 L565.9 75.91 L566.4 75.96 L566.9 76.01 L567.4 76.06 L567.9 76.11 L568.4 76.17 L568.9 76.23 L569.4 76.29 L569.9 76.35 L570.4 76.42 L570.9 76.49 L571.4 76.56 L571.9 76.64 L572.4 76.72 L572.9 76.8 L573.4 76.88 L573.9 76.97 L574.4 77.06 L574.9 77.16 L575.4 77.25 L575.9 77.35 L576.4 77.46 L576.9 77.56 L577.4 77.67 L577.9 77.78 L578.4 77.89 L578.9 78.01 L579.4 78.13 L579.9 78.25 L580.4 78.37 L580.9 78.5 L581.4 78.63 L581.9 78.76 L582.4 78.89 L582.9 79.03 L583.4 79.17 L583.9 79.31 L584.4 79.45 L584.9 79.6 L585.4 79.74 L585.9 79.89 L586.4 80.05 L586.9 80.2 L587.4 80.35 L587.9 80.51 L588.4 80.67 L588.9 80.83 L589.4 81 L589.9 81.16 L590.4 81.33 L590.9 81.5 L591.4 81.67 L591.9 81.84 L592.4 82.02 L592.9 82.19 L593.4 82.37 L593.9 82.55 L594.4 82.73 L594.9 82.91 L595.4 83.09 L595.9 83.28 L596.4 83.47 L596.9 83.65 L597.4 83.84 L597.9 84.03 L598.4 84.22 L598.9 84.42 L599.4 84.61 L599.9 84.8 L600.4 85 L600.9 85.2 L601.4 85.39 L601.9 85.59 L602.4 85.79 L602.9 85.99 L603.4 86.19 L603.9 86.39 L604.4 86.6 L604.9 86.8 L605.4 87 L605.9 87.21 L606.4 87.41 L606.9 87.61 L607.4 87.82 L607.9 88.02 L608.4 88.23 L608.9 88.43 L609.4 88.64 L609.9 88.84 L610.4 89.05 L610.9 89.25 L611.4 89.46 L611.9 89.66 L612.4 89.87 L612.9 90.07 L613.4 90.27 L613.9 90.48 L614.4 90.68 L614.9 90.88 L615.4 91.08 L615.9 91.28 L616.4 91.48 L616.9 91.68 L617.4 91.88 L617.9 92.08 L618.4 92.28 L618.9 92.47 L619.4 92.67 L619.9 92.86 L620.4 93.05 L620.9 93.25 L621.4 93.43 L621.9 93.62 L622.4 93.8 L622.9 93.98 L623.4 94.16 L623.9 94.33 L624.4 94.5 L624.9 94.66 L625.4 94.82 L625.9 94.97 L626.4 95.11 L626.9 95.24 L627.4 95.37 L627.9 95.49 L628.4 95.6 L628.9 95.7 L629.4 95.79 L629.9 95.87 L630.4 95.95 L630.9 96 L631.4 96.05 L631.9 96.09 L632.4 96.11 L632.9 96.12 L633.4 96.12 L633.9 96.1 L634.4 96.07 L634.9 96.02 L635.4 95.96 L635.9 95.88 L636.4 95.79 L636.9 95.69 L637.4 95.57 L637.9 95.44 L638.4 95.29 L638.9 95.13 L639.4 94.95 L639.9 94.76 L640.4 94.55 L640.9 94.33 L641.4 94.1 L641.9 93.85 L642.4 93.59 L642.9 93.31 L643.4 93.02 L643.9 92.71 L644.4 92.4 L644.9 92.06 L645.4 91.71 L645.9 91.35 L646.4 90.98 L646.9 90.59 L647.4 90.19 L647.9 89.77 L648.4 89.34 L648.9 88.9 L649.4 88.44 L649.9 87.98 L650.4 87.5 L650.9 87 L651.4 86.5 L651.9 85.98 L652.4 85.45 L652.9 84.91 L653.4 84.35 L653.9 83.78 L654.4 83.21 L654.9 82.62 L655.4 82.02 L655.9 81.4 L656.4 80.78 L656.9 80.14 L657.4 79.5 L657.9 78.84 L658.4 78.17 L658.9 77.49 L659.4 76.8 L659.9 76.1 L660.4 75.4 L660.9 74.68 L661.4 73.96 L661.9 73.23 L662.4 72.5 L662.9 71.76 L663.4 71.02 L663.9 70.28 L664.4 69.53 L664.9 68.78 L665.4 68.03 L665.9 67.28 L666.4 66.54 L666.9 65.79 L667.4 65.05 L667.9 64.31 L668.4 63.58 L668.9 62.85 L669.4 62.13 L669.9 61.41 L670.4 60.7 L670.9 60 L671.4 59.31 L671.9 58.63 L672.4 57.96 L672.9 57.3 L673.4 56.65 L673.9 56.02 L674.4 55.4 L674.9 54.8 L675.4 54.21 L675.9 53.63 L676.4 53.07 L676.9 52.52 L677.4 51.98 L677.9 51.46 L678.4 50.95 L678.9 50.46 L679.4 49.99 L679.9 49.53 L680.4 49.08 L680.9 48.65 L681.4 48.23 L681.9 47.83 L682.4 47.44 L682.9 47.07 L683.4 46.72 L683.9 46.38 L684.4 46.05 L684.9 45.74 L685.4 45.43 L685.9 45.14 L686.4 44.86 L686.9 44.58 L687.4 44.31 L687.9 44.05 L688.4 43.79 L688.9 43.54 L689.4 43.29 L689.9 43.04 L690.4 42.79 L690.9 42.55 L691 42.5 L693.7 37.5" stroke="#2020ff" stroke-width="1.3" fill="none"/>
<path d="M397.9 105.3 L401.1 109.9 L401.6 110.04 L402.1 110.19 L402.6 110.34 L403.1 110.49 L403.6 110.65 L404.1 110.82 L404.6 111 L405.1 111.19 L405.6 111.39 L406.1 111.61 L406.6 111.84 L407.1 112.09 L407.6 112.35 L408.1 112.63 L408.6 112.93 L409.1 113.24 L409.6 113.56 L410.1 113.9 L410.6 114.26 L411.1 114.62 L411.6 115 L412.1 115.39 L412.6 115.79 L413.1 116.21 L413.6 116.63 L414.1 117.07 L414.6 117.52 L415.1 117.97 L415.6 118.44 L416.1 118.92 L416.6 119.4 L417.1 119.89 L417.6 120.4 L418.1 120.9 L418.6 121.42 L419.1 121.95 L419.6 122.48 L420.1 123.01 L420.6 123.56 L421.1 124.11 L421.6 124.66 L422.1 125.22 L422.6 125.79 L423.1 126.36 L423.6 126.94 L424.1 127.51 L424.6 128.1 L425.1 128.68 L425.6 129.27 L426.1 129.86 L426.6 130.45 L427.1 131.05 L427.6 131.65 L428.1 132.24 L428.6 132.84 L429.1 133.44 L429.6 134.05 L430.1 134.65 L430.6 135.25 L431.1 135.85 L431.6 136.44 L432.1 137.04 L432.6 137.64 L433.1 138.23 L433.6 138.82 L434.1 139.41 L434.6 140 L435.1 140.58 L435.6 141.16 L436.1 141.74 L436.6 142.31 L437.1 142.88 L437.6 143.44 L438.1 143.99 L438.6 144.54 L439.1 145.09 L439.6 145.62 L440.1 146.15 L440.6 146.68 L441.1 147.19 L441.6 147.7 L442.1 148.19 L442.6 148.68 L443.1 149.16 L443.6 149.63 L444.1 150.09 L444.6 150.53 L445.1 150.97 L445.6 151.4 L446.1 151.81 L446.6 152.21 L447.1 152.6 L447.6 152.97 L448.1 153.34 L448.6 153.68 L449.1 154.02 L449.6 154.34 L450.1 154.65 L450.6 154.95 L451.1 155.23 L451.6 155.5 L452.1 155.75 L452.6 155.99 L453.1 156.22 L453.6 156.44 L454.1 156.64 L454.6 156.82 L455.1 157 L455.6 157.16 L456.1 157.3 L456.6 157.44 L457.1 157.56 L457.6 157.66 L458.1 157.76 L458.6 157.83 L459.1 157.9 L459.6 157.95 L460.1 157.99 L460.6 158.01 L461.1 158.02 L461.6 158.02 L462.1 158.01 L462.6 157.98 L463.1 157.94 L463.6 157.89 L464.1 157.83 L464.6 157.76 L465.1 157.69 L465.6 157.6 L466.1 157.5 L466.6 157.4 L467.1 157.28 L467.6 157.17 L468.1 157.04 L468.6 156.91 L469.1 156.77 L469.6 156.63 L470.1 156.48 L470.6 156.33 L471.1 156.18 L471.6 156.02 L472.1 155.86 L472.6 155.7 L473.1 155.53 L473.6 155.37 L474.1 155.2 L474.6 155.03 L475.1 154.87 L475.6 154.7 L476.1 154.53 L476.6 154.36 L477.1 154.19 L477.6 154.02 L478.1 153.85 L478.6 153.68 L479.1 153.51 L479.6 153.34 L480.1 153.17 L480.6 153 L481.1 152.83 L481.6 152.66 L482.1 152.49 L482.6 152.33 L483.1 152.16 L483.6 151.99 L484.1 151.83 L484.6 151.67 L485.1 151.51 L485.6 151.34 L486.1 151.19 L486.6 151.03 L487.1 150.87 L487.6 150.72 L488.1 150.57 L488.6 150.42 L489.1 150.27 L489.6 150.12 L490.1 149.98 L490.6 149.84 L491.1 149.7 L491.6 149.56 L492.1 149.43 L492.6 149.3 L493.1 149.17 L493.6 149.05 L494.1 148.93 L494.6 148.81 L495.1 148.69 L495.6 148.58 L496.1 148.47 L496.6 148.37 L497.1 148.26 L497.6 148.16 L498.1 148.07 L498.6 147.97 L499.1 147.88 L499.6 147.79 L500.1 147.7 L500.6 147.62 L501.1 147.53 L501.6 147.45 L502.1 147.38 L502.6 147.3 L503.1 147.23 L503.6 147.16 L504.1 147.09 L504.6 147.02 L505.1 146.96 L505.6 146.9 L506.1 146.83 L506.6 146.78 L507.1 146.72 L507.6 146.66 L508.1 146.61 L508.6 146.56 L509.1 146.51 L509.6 146.46 L510.1 146.41 L510.6 146.37 L511.1 146.32 L511.6 146.28 L512.1 146.24 L512.6 146.2 L513.1 146.16 L513.6 146.12 L514.1 146.09 L514.6 146.05 L515.1 146.02 L515.6 145.98 L516.1 145.95 L516.6 145.92 L517.1 145.89 L517.6 145.86 L518.1 145.83 L518.6 145.8 L519.1 145.77 L519.6 145.74 L520.1 145.72 L520.6 145.69 L521.1 145.67 L521.6 145.64 L522.1 145.62 L522.6 145.6 L523.1 145.57 L523.6 145.55 L524.1 145.53 L524.6 145.51 L525.1 145.49 L525.6 145.47 L526.1 145.45 L526.6 145.44 L527.1 145.42 L527.6 145.4 L528.1 145.39 L528.6 145.37 L529.1 145.36 L529.6 145.35 L530.1 145.33 L530.6 145.32 L531.1 145.31 L531.6 145.3 L532.1 145.29 L532.6 145.28 L533.1 145.27 L533.6 145.26 L534.1 145.25 L534.6 145.24 L535.1 145.23 L535.6 145.23 L536.1 145.22 L536.6 145.22 L537.1 145.21 L537.6 145.21 L538.1 145.2 L538.6 145.2 L539.1 145.19 L539.6 145.19 L540.1 145.19 L540.6 145.19 L541.1 145.19 L541.6 145.19 L542.1 145.19 L542.6 145.19 L543.1 145.19 L543.6 145.19 L544.1 145.19 L544.6 145.19 L545.1 145.19 L545.6 145.2 L546.1 145.2 L546.6 145.2 L547.1 145.21 L547.6 145.21 L548.1 145.22 L548.6 145.22 L549.1 145.23 L549.6 145.24 L550.1 145.24 L550.6 145.25 L551.1 145.26 L551.6 145.27 L552.1 145.28 L552.6 145.29 L553.1 145.3 L553.6 145.32 L554.1 145.33 L554.6 145.35 L555.1 145.36 L555.6 145.38 L556.1 145.4 L556.6 145.41 L557.1 145.43 L557.6 145.45 L558.1 145.48 L558.6 145.5 L559.1 145.52 L559.6 145.55 L560.1 145.58 L560.6 145.6 L561.1 145.63 L561.6 145.67 L562.1 145.7 L562.6 145.73 L563.1 145.77 L563.6 145.8 L564.1 145.84 L564.6 145.88 L565.1 145.92 L565.6 145.96 L566.1 146.01 L566.6 146.05 L567.1 146.1 L567.6 146.15 L568.1 146.2 L568.6 146.26 L569.1 146.31 L569.6 146.37 L570.1 146.43 L570.6 146.49 L571.1 146.55 L571.6 146.61 L572.1 146.68 L572.6 146.75 L573.1 146.82 L573.6 146.89 L574.1 146.97 L574.6 147.04 L575.1 147.12 L575.6 147.2 L576.1 147.28 L576.6 147.36 L577.1 147.44 L577.6 147.53 L578.1 147.62 L578.6 147.7 L579.1 147.79 L579.6 147.88 L580.1 147.98 L580.6 148.07 L581.1 148.17 L581.6 148.26 L582.1 148.36 L582.6 148.46 L583.1 148.56 L583.6 148.66 L584.1 148.77 L584.6 148.87 L585.1 148.98 L585.6 149.08 L586.1 149.19 L586.6 149.3 L587.1 149.41 L587.6 149.52 L588.1 149.63 L588.6 149.74 L589.1 149.85 L589.6 149.97 L590.1 150.08 L590.6 150.19 L591.1 150.31 L591.6 150.43 L592.1 150.54 L592.6 150.66 L593.1 150.78 L593.6 150.9 L594.1 151.02 L594.6 151.14 L595.1 151.26 L595.6 151.38 L596.1 151.5 L596.6 151.62 L597.1 151.75 L597.6 151.87 L598.1 151.99 L598.6 152.12 L599.1 152.24 L599.6 152.36 L600.1 152.49 L600.6 152.61 L601.1 152.73 L601.6 152.86 L602.1 152.98 L602.6 153.11 L603.1 153.23 L603.6 153.36 L604.1 153.48 L604.6 153.61 L605.1 153.74 L605.6 153.86 L606.1 153.99 L606.6 154.11 L607.1 154.24 L607.6 154.36 L608.1 154.49 L608.6 154.62 L609.1 154.74 L609.6 154.87 L610.1 154.99 L610.6 155.12 L611.1 155.24 L611.6 155.37 L612.1 155.49 L612.6 155.62 L613.1 155.74 L613.6 155.86 L614.1 155.99 L614.6 156.11 L615.1 156.23 L615.6 156.36 L616.1 156.48 L616.6 156.6 L617.1 156.72 L617.6 156.85 L618.1 156.97 L618.6 157.09 L619.1 157.2 L619.6 157.32 L620.1 157.44 L620.6 157.55 L621.1 157.66 L621.6 157.76 L622.1 157.87 L622.6 157.97 L623.1 158.06 L623.6 158.15 L624.1 158.24 L624.6 158.32 L625.1 158.4 L625.6 158.47 L626.1 158.54 L626.6 158.6 L627.1 158.65 L627.6 158.7 L628.1 158.74 L628.6 158.77 L629.1 158.79 L629.6 158.81 L630.1 158.81 L630.6 158.81 L631.1 158.8 L631.6 158.78 L632.1 158.75 L632.6 158.72 L633.1 158.67 L633.6 158.61 L634.1 158.54 L634.6 158.46 L635.1 158.37 L635.6 158.27 L636.1 158.16 L636.6 158.03 L637.1 157.9 L637.6 157.75 L638.1 157.59 L638.6 157.42 L639.1 157.24 L639.6 157.05 L640.1 156.84 L640.6 156.62 L641.1 156.39 L641.6 156.14 L642.1 155.88 L642.6 155.61 L643.1 155.33 L643.6 155.03 L644.1 154.71 L644.6 154.39 L645.1 154.05 L645.6 153.7 L646.1 153.34 L646.6 152.96 L647.1 152.58 L647.6 152.18 L648.1 151.77 L648.6 151.36 L649.1 150.93 L649.6 150.49 L650.1 150.04 L650.6 149.58 L651.1 149.12 L651.6 148.64 L652.1 148.16 L652.6 147.67 L653.1 147.17 L653.6 146.66 L654.1 146.15 L654.6 145.62 L655.1 145.1 L655.6 144.56 L656.1 144.02 L656.6 143.48 L657.1 142.92 L657.6 142.37 L658.1 141.81 L658.6 141.24 L659.1 140.67 L659.6 140.09 L660.1 139.52 L660.6 138.93 L661.1 138.35 L661.6 137.76 L662.1 137.17 L662.6 136.58 L663.1 135.98 L663.6 135.39 L664.1 134.79 L664.6 134.19 L665.1 133.59 L665.6 133 L666.1 132.4 L666.6 131.8 L667.1 131.2 L667.6 130.6 L668.1 130 L668.6 129.4 L669.1 128.81 L669.6 128.22 L670.1 127.63 L670.6 127.04 L671.1 126.45 L671.6 125.87 L672.1 125.29 L672.6 124.71 L673.1 124.14 L673.6 123.57 L674.1 123.01 L674.6 122.45 L675.1 121.9 L675.6 121.35 L676.1 120.81 L676.6 120.27 L677.1 119.74 L677.6 119.22 L678.1 118.71 L678.6 118.2 L679.1 117.71 L679.6 117.23 L680.1 116.77 L680.6 116.32 L681.1 115.88 L681.6 115.46 L682.1 115.07 L682.6 114.68 L683.1 114.32 L683.6 113.99 L684.1 113.67 L684.6 113.38 L685.1 113.11 L685.6 112.87 L686.1 112.65 L686.6 112.46 L687.1 112.31 L687.6 112.17 L688.1 112.06 L688.6 111.96 L689.1 111.88 L689.6 111.81 L690.1 111.74 L690.4 111.7 L693.7 105.3" stroke="#1a8a1a" stroke-width="1.3" fill="none"/>
<path d="M397.9 174.8 L401.1 178.6 L401.6 178.78 L402.1 178.97 L402.6 179.15 L403.1 179.34 L403.6 179.53 L404.1 179.72 L404.6 179.91 L405.1 180.11 L405.6 180.32 L406.1 180.53 L406.6 180.75 L407.1 180.97 L407.6 181.2 L408.1 181.44 L408.6 181.68 L409.1 181.94 L409.6 182.2 L410.1 182.47 L410.6 182.74 L411.1 183.02 L411.6 183.31 L412.1 183.61 L412.6 183.91 L413.1 184.22 L413.6 184.53 L414.1 184.85 L414.6 185.17 L415.1 185.5 L415.6 185.83 L416.1 186.17 L416.6 186.51 L417.1 186.86 L417.6 187.21 L418.1 187.56 L418.6 187.92 L419.1 188.28 L419.6 188.64 L420.1 189.01 L420.6 189.38 L421.1 189.75 L421.6 190.12 L422.1 190.5 L422.6 190.88 L423.1 191.26 L423.6 191.64 L424.1 192.03 L424.6 192.41 L425.1 192.8 L425.6 193.19 L426.1 193.58 L426.6 193.97 L427.1 194.36 L427.6 194.75 L428.1 195.15 L428.6 195.54 L429.1 195.94 L429.6 196.33 L430.1 196.73 L430.6 197.13 L431.1 197.52 L431.6 197.92 L432.1 198.32 L432.6 198.72 L433.1 199.11 L433.6 199.51 L434.1 199.91 L434.6 200.3 L435.1 200.7 L435.6 201.09 L436.1 201.49 L436.6 201.88 L437.1 202.28 L437.6 202.67 L438.1 203.06 L438.6 203.45 L439.1 203.84 L439.6 204.22 L440.1 204.61 L440.6 204.99 L441.1 205.37 L441.6 205.75 L442.1 206.12 L442.6 206.49 L443.1 206.86 L443.6 207.22 L444.1 207.57 L444.6 207.91 L445.1 208.25 L445.6 208.58 L446.1 208.91 L446.6 209.22 L447.1 209.52 L447.6 209.82 L448.1 210.1 L448.6 210.37 L449.1 210.63 L449.6 210.88 L450.1 211.11 L450.6 211.33 L451.1 211.53 L451.6 211.72 L452.1 211.9 L452.6 212.06 L453.1 212.2 L453.6 212.32 L454.1 212.43 L454.6 212.52 L455.1 212.59 L455.6 212.64 L456.1 212.67 L456.6 212.68 L457.1 212.67 L457.6 212.65 L458.1 212.61 L458.6 212.56 L459.1 212.48 L459.6 212.4 L460.1 212.3 L460.6 212.19 L461.1 212.06 L461.6 211.92 L462.1 211.78 L462.6 211.62 L463.1 211.45 L463.6 211.27 L464.1 211.09 L464.6 210.89 L465.1 210.69 L465.6 210.48 L466.1 210.27 L466.6 210.05 L467.1 209.83 L467.6 209.6 L468.1 209.37 L468.6 209.14 L469.1 208.91 L469.6 208.67 L470.1 208.44 L470.6 208.2 L471.1 207.97 L471.6 207.73 L472.1 207.5 L472.6 207.27 L473.1 207.04 L473.6 206.81 L474.1 206.58 L474.6 206.35 L475.1 206.13 L475.6 205.91 L476.1 205.68 L476.6 205.46 L477.1 205.24 L477.6 205.03 L478.1 204.81 L478.6 204.6 L479.1 204.38 L479.6 204.17 L480.1 203.96 L480.6 203.76 L481.1 203.55 L481.6 203.35 L482.1 203.15 L482.6 202.95 L483.1 202.76 L483.6 202.56 L484.1 202.37 L484.6 202.18 L485.1 201.99 L485.6 201.81 L486.1 201.63 L486.6 201.45 L487.1 201.27 L487.6 201.1 L488.1 200.93 L488.6 200.76 L489.1 200.6 L489.6 200.44 L490.1 200.28 L490.6 200.12 L491.1 199.97 L491.6 199.82 L492.1 199.67 L492.6 199.53 L493.1 199.39 L493.6 199.25 L494.1 199.12 L494.6 198.99 L495.1 198.87 L495.6 198.74 L496.1 198.62 L496.6 198.51 L497.1 198.39 L497.6 198.28 L498.1 198.18 L498.6 198.07 L499.1 197.97 L499.6 197.87 L500.1 197.78 L500.6 197.68 L501.1 197.59 L501.6 197.51 L502.1 197.42 L502.6 197.34 L503.1 197.26 L503.6 197.18 L504.1 197.11 L504.6 197.03 L505.1 196.96 L505.6 196.9 L506.1 196.83 L506.6 196.76 L507.1 196.7 L507.6 196.64 L508.1 196.58 L508.6 196.53 L509.1 196.47 L509.6 196.42 L510.1 196.37 L510.6 196.32 L511.1 196.27 L511.6 196.22 L512.1 196.18 L512.6 196.13 L513.1 196.09 L513.6 196.05 L514.1 196.01 L514.6 195.97 L515.1 195.93 L515.6 195.89 L516.1 195.86 L516.6 195.82 L517.1 195.79 L517.6 195.75 L518.1 195.72 L518.6 195.69 L519.1 195.66 L519.6 195.63 L520.1 195.6 L520.6 195.57 L521.1 195.54 L521.6 195.51 L522.1 195.48 L522.6 195.46 L523.1 195.43 L523.6 195.41 L524.1 195.38 L524.6 195.36 L525.1 195.34 L525.6 195.31 L526.1 195.29 L526.6 195.27 L527.1 195.25 L527.6 195.23 L528.1 195.21 L528.6 195.19 L529.1 195.17 L529.6 195.16 L530.1 195.14 L530.6 195.12 L531.1 195.11 L531.6 195.09 L532.1 195.07 L532.6 195.06 L533.1 195.05 L533.6 195.03 L534.1 195.02 L534.6 195.01 L535.1 194.99 L535.6 194.98 L536.1 194.97 L536.6 194.96 L537.1 194.95 L537.6 194.94 L538.1 194.93 L538.6 194.92 L539.1 194.91 L539.6 194.9 L540.1 194.89 L540.6 194.88 L541.1 194.87 L541.6 194.86 L542.1 194.85 L542.6 194.85 L543.1 194.84 L543.6 194.83 L544.1 194.82 L544.6 194.82 L545.1 194.81 L545.6 194.81 L546.1 194.8 L546.6 194.79 L547.1 194.79 L547.6 194.78 L548.1 194.78 L548.6 194.77 L549.1 194.77 L549.6 194.76 L550.1 194.76 L550.6 194.75 L551.1 194.75 L551.6 194.75 L552.1 194.75 L552.6 194.74 L553.1 194.74 L553.6 194.74 L554.1 194.74 L554.6 194.74 L555.1 194.74 L555.6 194.75 L556.1 194.75 L556.6 194.75 L557.1 194.76 L557.6 194.76 L558.1 194.77 L558.6 194.78 L559.1 194.78 L559.6 194.79 L560.1 194.8 L560.6 194.81 L561.1 194.83 L561.6 194.84 L562.1 194.85 L562.6 194.87 L563.1 194.88 L563.6 194.9 L564.1 194.92 L564.6 194.94 L565.1 194.96 L565.6 194.99 L566.1 195.01 L566.6 195.03 L567.1 195.06 L567.6 195.09 L568.1 195.12 L568.6 195.15 L569.1 195.18 L569.6 195.22 L570.1 195.25 L570.6 195.29 L571.1 195.33 L571.6 195.37 L572.1 195.42 L572.6 195.46 L573.1 195.51 L573.6 195.55 L574.1 195.6 L574.6 195.65 L575.1 195.7 L575.6 195.76 L576.1 195.81 L576.6 195.87 L577.1 195.93 L577.6 195.99 L578.1 196.05 L578.6 196.11 L579.1 196.18 L579.6 196.24 L580.1 196.31 L580.6 196.38 L581.1 196.45 L581.6 196.52 L582.1 196.59 L582.6 196.66 L583.1 196.74 L583.6 196.82 L584.1 196.89 L584.6 196.97 L585.1 197.05 L585.6 197.13 L586.1 197.22 L586.6 197.3 L587.1 197.39 L587.6 197.47 L588.1 197.56 L588.6 197.65 L589.1 197.74 L589.6 197.83 L590.1 197.92 L590.6 198.02 L591.1 198.11 L591.6 198.21 L592.1 198.3 L592.6 198.4 L593.1 198.5 L593.6 198.6 L594.1 198.7 L594.6 198.8 L595.1 198.91 L595.6 199.01 L596.1 199.12 L596.6 199.22 L597.1 199.33 L597.6 199.44 L598.1 199.55 L598.6 199.66 L599.1 199.77 L599.6 199.88 L600.1 200 L600.6 200.11 L601.1 200.23 L601.6 200.35 L602.1 200.47 L602.6 200.6 L603.1 200.73 L603.6 200.85 L604.1 200.99 L604.6 201.12 L605.1 201.26 L605.6 201.4 L606.1 201.54 L606.6 201.69 L607.1 201.84 L607.6 201.99 L608.1 202.14 L608.6 202.3 L609.1 202.47 L609.6 202.63 L610.1 202.8 L610.6 202.98 L611.1 203.16 L611.6 203.34 L612.1 203.52 L612.6 203.72 L613.1 203.91 L613.6 204.11 L614.1 204.32 L614.6 204.52 L615.1 204.74 L615.6 204.96 L616.1 205.18 L616.6 205.41 L617.1 205.65 L617.6 205.89 L618.1 206.13 L618.6 206.38 L619.1 206.63 L619.6 206.89 L620.1 207.14 L620.6 207.4 L621.1 207.66 L621.6 207.91 L622.1 208.17 L622.6 208.42 L623.1 208.67 L623.6 208.92 L624.1 209.17 L624.6 209.41 L625.1 209.64 L625.6 209.87 L626.1 210.09 L626.6 210.3 L627.1 210.51 L627.6 210.7 L628.1 210.89 L628.6 211.07 L629.1 211.23 L629.6 211.39 L630.1 211.53 L630.6 211.65 L631.1 211.77 L631.6 211.87 L632.1 211.95 L632.6 212.02 L633.1 212.07 L633.6 212.1 L634.1 212.12 L634.6 212.12 L635.1 212.09 L635.6 212.05 L636.1 211.99 L636.6 211.91 L637.1 211.81 L637.6 211.69 L638.1 211.56 L638.6 211.41 L639.1 211.25 L639.6 211.07 L640.1 210.87 L640.6 210.67 L641.1 210.45 L641.6 210.22 L642.1 209.98 L642.6 209.72 L643.1 209.46 L643.6 209.19 L644.1 208.91 L644.6 208.62 L645.1 208.32 L645.6 208.02 L646.1 207.71 L646.6 207.39 L647.1 207.07 L647.6 206.75 L648.1 206.42 L648.6 206.09 L649.1 205.75 L649.6 205.41 L650.1 205.07 L650.6 204.72 L651.1 204.37 L651.6 204.03 L652.1 203.68 L652.6 203.33 L653.1 202.98 L653.6 202.63 L654.1 202.28 L654.6 201.93 L655.1 201.59 L655.6 201.24 L656.1 200.9 L656.6 200.56 L657.1 200.23 L657.6 199.9 L658.1 199.57 L658.6 199.25 L659.1 198.93 L659.6 198.62 L660.1 198.32 L660.6 198.02 L661.1 197.73 L661.6 197.44 L662.1 197.16 L662.6 196.89 L663.1 196.63 L663.6 196.37 L664.1 196.12 L664.6 195.87 L665.1 195.64 L665.6 195.41 L666.1 195.18 L666.6 194.96 L667.1 194.75 L667.6 194.55 L668.1 194.35 L668.6 194.15 L669.1 193.97 L669.6 193.79 L670.1 193.61 L670.6 193.44 L671.1 193.28 L671.6 193.13 L672.1 192.97 L672.6 192.83 L673.1 192.69 L673.6 192.56 L674.1 192.43 L674.6 192.31 L675.1 192.19 L675.6 192.08 L676.1 191.98 L676.6 191.88 L677.1 191.78 L677.6 191.69 L678.1 191.61 L678.6 191.53 L679.1 191.46 L679.6 191.39 L680.1 191.32 L680.6 191.26 L681.1 191.21 L681.6 191.16 L682.1 191.11 L682.6 191.07 L683.1 191.03 L683.6 190.99 L684.1 190.96 L684.6 190.93 L685.1 190.9 L685.6 190.87 L686.1 190.85 L686.6 190.83 L687.1 190.81 L687.6 190.79 L688.1 190.77 L688.6 190.75 L689.1 190.74 L689.6 190.72 L690.1 190.71 L690.4 190.7 L693.7 185" stroke="#ff2020" stroke-width="1.3" fill="none"/>
<rect x="397.9" y="22.9" width="295.8" height="197.4" fill="none" stroke="#7a7a7a" stroke-width="1"/>
<path d="M397.9 220.3 v-3.3 M397.9 22.9 v3.3 M447.2 220.3 v-3.3 M447.2 22.9 v3.3 M496.5 220.3 v-3.3 M496.5 22.9 v3.3 M545.8 220.3 v-3.3 M545.8 22.9 v3.3 M595.1 220.3 v-3.3 M595.1 22.9 v3.3 M644.4 220.3 v-3.3 M644.4 22.9 v3.3 M693.7 220.3 v-3.3 M693.7 22.9 v3.3 M397.9 22.9 h3.3 M693.7 22.9 h-3.3 M397.9 62.38 h3.3 M693.7 62.38 h-3.3 M397.9 101.86 h3.3 M693.7 101.86 h-3.3 M397.9 141.34 h3.3 M693.7 141.34 h-3.3 M397.9 180.82 h3.3 M693.7 180.82 h-3.3 M397.9 220.3 h3.3 M693.7 220.3 h-3.3" stroke="#505050" stroke-width="1" fill="none"/>
<rect x="622.1" y="26.4" width="68.6" height="32.8" fill="#fff" stroke="#808080" stroke-width="1"/>
<path d="M626.4 31.8 H637.1" stroke="#2020ff" stroke-width="1.3"/>
<text x="644.2" y="34.4" font-size="7.4" text-anchor="start" textLength="34.8" lengthAdjust="spacingAndGlyphs" fill="#222">234-468 d</text>
<path d="M626.4 41.9 H637.1" stroke="#1a8a1a" stroke-width="1.3"/>
<text x="644.2" y="44.5" font-size="7.4" text-anchor="start" textLength="39.6" lengthAdjust="spacingAndGlyphs" fill="#222">936-1170 d</text>
<path d="M626.4 52.1 H637.1" stroke="#ff2020" stroke-width="1.3"/>
<text x="644.2" y="54.7" font-size="7.4" text-anchor="start" textLength="43.7" lengthAdjust="spacingAndGlyphs" fill="#222">1638-1872 d</text>
<path d="M46.5 392.7 C46.87 395.99 48.54 417.63 49.3 417.4 C50.06 417.17 50.93 396.27 52.2 391 C53.47 385.73 57.25 380.42 58.8 377.9 C60.35 375.38 62.48 374.09 63.8 372.1 C65.12 370.11 67.5 365.2 68.7 363 C69.9 360.8 71.71 358.29 72.8 355.6 C73.89 352.91 75.91 347.15 76.9 342.8 C77.89 338.45 79.37 326.84 80.2 323 C81.03 319.16 82.01 312.89 83.1 314 C84.19 315.11 87.04 328.38 88.4 331.3 C89.76 334.22 91.66 335.95 93.3 335.9 C94.94 335.85 99.15 330.35 100.7 330.9 C102.25 331.45 103.67 335.93 104.9 340 C106.13 344.07 108.69 356.89 109.9 361.4 C111.11 365.91 112.24 371.39 114 373.8 C115.76 376.21 121.01 377.63 123.1 379.5 C125.19 381.37 126.85 383.63 129.7 387.8 C132.55 391.97 141.45 406.81 144.5 410.8 C147.55 414.79 149.43 415.53 152.6 417.7 C155.77 419.87 164.51 425.25 168.3 427.1 C172.09 428.95 177.44 430.69 181 431.6 C184.56 432.51 191.4 433.79 195 433.9 C198.6 434.01 204.23 433.51 208 432.4 C211.77 431.29 218.75 428.51 223.3 425.6 C227.85 422.69 238.13 414.32 242.1 410.6 C246.07 406.88 250.1 401.73 253.1 397.7 C256.1 393.67 261.85 382.6 264.6 380.4 C267.35 378.2 271.83 382.19 273.7 381.2 C275.57 380.21 277.4 375.85 278.6 373 C279.8 370.15 281.17 362.88 282.7 359.8 C284.23 356.72 288.69 352.31 290.1 349.9 C291.51 347.49 292.1 347.95 293.3 341.7 C294.5 335.45 297.89 309.21 299.1 303 C300.31 296.79 301.52 295.71 302.4 295.1 C303.28 294.49 304.82 294.93 305.7 298.4 C306.58 301.87 308.01 314.34 309 321.1 C309.99 327.86 312.11 343.73 313.1 349.1 C314.09 354.47 314.64 358.15 316.4 361.4 C318.16 364.65 324.15 372.71 326.3 373.5 C328.45 374.29 331.18 369.63 332.5 367.3 C333.82 364.97 335.24 356.41 336.2 356 C337.16 355.59 338.9 359.53 339.7 364.2 C340.5 368.87 341.87 387.43 342.2 391" stroke="#2020ff" stroke-width="1.3" fill="none"/>
<path d="M46.5 392.7 C46.87 394.34 48.54 405.44 49.3 405 C50.06 404.56 51.48 390.16 52.2 389.4 C52.92 388.64 53.49 397.54 54.7 399.3 C55.91 401.06 59.66 404.15 61.3 402.6 C62.94 401.05 65.36 394.14 67 387.7 C68.64 381.26 72.28 360.69 73.6 354.3 C74.92 347.91 75.14 339.48 76.9 339.8 C78.66 340.12 84.72 355.47 86.8 356.7 C88.88 357.93 90.75 348.44 92.5 349 C94.25 349.56 97.81 358.26 99.9 360.9 C101.99 363.54 106.09 367.75 108.2 368.8 C110.31 369.85 113.5 368.03 115.7 368.8 C117.9 369.57 122.39 372.07 124.7 374.6 C127.01 377.13 130.15 383.52 133 387.8 C135.85 392.08 142.02 402.5 146.1 406.7 C150.18 410.9 159.17 416.67 163.6 419.3 C168.03 421.93 175.11 425.41 179.3 426.4 C183.49 427.39 191.03 426.85 195 426.7 C198.97 426.55 204.7 426.29 209.1 425.3 C213.5 424.31 223.39 421.57 228 419.3 C232.61 417.03 240.35 411.85 243.7 408.3 C247.05 404.75 250.53 397.3 253.1 392.7 C255.67 388.1 260.81 376.55 263 373.8 C265.19 371.05 267.75 372.33 269.5 372.1 C271.25 371.87 274.78 372.86 276.1 372.1 C277.42 371.34 278.41 369.03 279.4 366.4 C280.39 363.77 282.51 354.16 283.5 352.4 C284.49 350.64 285.93 352 286.8 353.2 C287.67 354.4 289.24 359.87 290 361.4 C290.76 362.93 291.18 365.91 292.5 364.7 C293.82 363.49 298.14 355.81 299.9 352.3 C301.66 348.79 304.49 340.04 305.7 338.4 C306.91 336.76 308.01 338.13 309 340 C309.99 341.87 312.02 347.93 313.1 352.4 C314.18 356.87 316.02 368.77 317.1 373.5 C318.18 378.23 319.97 384.74 321.2 387.9 C322.43 391.06 324.66 396.79 326.3 397.2 C327.94 397.61 332.18 392.65 333.5 391 C334.82 389.35 335.45 382.88 336.2 384.8 C336.95 386.72 338.3 404.57 339.1 405.4 C339.9 406.23 341.79 392.92 342.2 391" stroke="#1a8a1a" stroke-width="1.3" fill="none"/>
<path d="M46.5 389.4 C47.26 386.88 50.67 370.06 52.2 370.5 C53.73 370.94 56.35 388.42 58 392.7 C59.65 396.98 62.84 402.16 64.6 402.6 C66.36 403.04 69.61 399.15 71.2 396 C72.79 392.85 74.89 383.89 76.5 379 C78.11 374.11 81.82 360.85 83.3 359.3 C84.78 357.75 86.04 365.21 87.6 367.4 C89.16 369.59 93.28 375.89 95 375.7 C96.72 375.51 99.29 368.24 100.5 366 C101.71 363.76 102.85 360.17 104.1 358.9 C105.35 357.63 108.25 356.38 109.9 356.5 C111.55 356.62 114.3 357.49 116.5 359.8 C118.7 362.11 122.67 368.09 126.4 373.8 C130.13 379.51 139.54 396.75 144.5 402.6 C149.46 408.45 158.75 414.58 163.6 417.7 C168.45 420.82 176.71 424.79 180.9 426 C185.09 427.21 191.44 426.85 195 426.8 C198.56 426.75 203.2 426.92 207.6 425.6 C212 424.28 223.25 419.53 228 416.9 C232.75 414.27 239.85 409.34 243.2 405.9 C246.55 402.46 250.46 395.61 253.1 391.1 C255.74 386.59 260.37 376.27 263 372.1 C265.63 367.93 270.17 361 272.8 359.8 C275.43 358.6 280.41 359.81 282.7 363.1 C284.99 366.39 288.69 381.01 290 384.5 C291.31 387.99 290.3 394.69 292.5 389.3 C294.7 383.91 304.19 349.69 306.5 344.1 C308.81 338.51 308.81 345.41 309.8 347.4 C310.79 349.39 312.51 354.97 313.9 359 C315.29 363.03 318.68 375.67 320.2 377.6 C321.72 379.53 324.07 376.25 325.3 373.5 C326.53 370.75 328.44 357.83 329.4 357 C330.36 356.17 331.59 370.03 332.5 367.3 C333.41 364.57 335.24 337.31 336.2 336.5 C337.16 335.69 338.9 354.07 339.7 361.2 C340.5 368.33 341.87 386.16 342.2 390" stroke="#ff2020" stroke-width="1.3" fill="none"/>
<rect x="46.5" y="266" width="296" height="197.3" fill="none" stroke="#7a7a7a" stroke-width="1"/>
<path d="M46.5 463.3 v-3.3 M46.5 266 v3.3 M95.83 463.3 v-3.3 M95.83 266 v3.3 M145.17 463.3 v-3.3 M145.17 266 v3.3 M194.5 463.3 v-3.3 M194.5 266 v3.3 M243.83 463.3 v-3.3 M243.83 266 v3.3 M293.17 463.3 v-3.3 M293.17 266 v3.3 M342.5 463.3 v-3.3 M342.5 266 v3.3 M46.5 266 h3.3 M342.5 266 h-3.3 M46.5 298.88 h3.3 M342.5 298.88 h-3.3 M46.5 331.77 h3.3 M342.5 331.77 h-3.3 M46.5 364.65 h3.3 M342.5 364.65 h-3.3 M46.5 397.53 h3.3 M342.5 397.53 h-3.3 M46.5 430.42 h3.3 M342.5 430.42 h-3.3 M46.5 463.3 h3.3 M342.5 463.3 h-3.3" stroke="#505050" stroke-width="1" fill="none"/>
<rect x="49.3" y="427.4" width="69.2" height="32.8" fill="#fff" stroke="#808080" stroke-width="1"/>
<path d="M54.1 432.9 H64.7" stroke="#2020ff" stroke-width="1.3"/>
<text x="71.9" y="435.5" font-size="7.4" text-anchor="start" textLength="34.2" lengthAdjust="spacingAndGlyphs" fill="#222">234-468 d</text>
<path d="M54.1 443.4 H64.7" stroke="#1a8a1a" stroke-width="1.3"/>
<text x="71.9" y="446" font-size="7.4" text-anchor="start" textLength="38.8" lengthAdjust="spacingAndGlyphs" fill="#222">936-1170 d</text>
<path d="M54.1 453.4 H64.7" stroke="#ff2020" stroke-width="1.3"/>
<text x="71.9" y="456" font-size="7.4" text-anchor="start" textLength="42.8" lengthAdjust="spacingAndGlyphs" fill="#222">1638-1872 d</text>
<path d="M397.9 451 L398.4 449.82 L398.9 448.59 L399.4 447.25 L399.9 445.74 L400.4 444.01 L400.9 442 L401.4 439.68 L401.9 437.08 L402.4 434.25 L402.9 431.27 L403.4 428.18 L403.9 425.04 L404.4 421.89 L404.9 418.75 L405.4 415.63 L405.9 412.55 L406.4 409.53 L406.9 406.58 L407.4 403.72 L407.9 400.95 L408.4 398.25 L408.9 395.64 L409.4 393.1 L409.9 390.63 L410.4 388.21 L410.9 385.85 L411.4 383.54 L411.9 381.28 L412.4 379.05 L412.9 376.86 L413.4 374.69 L413.9 372.55 L414.4 370.42 L414.9 368.31 L415.4 366.2 L415.9 364.1 L416.4 362.01 L416.9 359.92 L417.4 357.84 L417.9 355.75 L418.4 353.67 L418.9 351.59 L419.4 349.5 L419.9 347.41 L420.4 345.32 L420.9 343.24 L421.4 341.18 L421.9 339.14 L422.4 337.12 L422.9 335.13 L423.4 333.19 L423.9 331.28 L424.4 329.43 L424.9 327.64 L425.4 325.89 L425.9 324.19 L426.4 322.53 L426.9 320.92 L427.4 319.33 L427.9 317.77 L428.4 316.24 L428.9 314.74 L429.4 313.24 L429.9 311.76 L430.4 310.29 L430.9 308.83 L431.4 307.37 L431.9 305.94 L432.4 304.53 L432.9 303.16 L433.4 301.83 L433.9 300.56 L434.4 299.35 L434.9 298.22 L435.4 297.16 L435.9 296.18 L436.4 295.28 L436.9 294.44 L437.4 293.67 L437.9 292.96 L438.4 292.31 L438.9 291.7 L439.4 291.15 L439.9 290.63 L440.4 290.16 L440.9 289.71 L441.4 289.3 L441.9 288.91 L442.4 288.54 L442.9 288.2 L443.4 287.89 L443.9 287.59 L444.4 287.32 L444.9 287.08 L445.4 286.86 L445.9 286.67 L446.4 286.5 L446.9 286.35 L447.4 286.23 L447.9 286.14 L448.4 286.06 L448.9 286.02 L449.4 286 L449.9 286 L450.4 286.03 L450.9 286.08 L451.4 286.16 L451.9 286.25 L452.4 286.37 L452.9 286.51 L453.4 286.67 L453.9 286.84 L454.4 287.03 L454.9 287.25 L455.4 287.47 L455.9 287.72 L456.4 287.97 L456.9 288.24 L457.4 288.53 L457.9 288.83 L458.4 289.13 L458.9 289.45 L459.4 289.78 L459.9 290.12 L460.4 290.47 L460.9 290.83 L461.4 291.19 L461.9 291.56 L462.4 291.93 L462.9 292.32 L463.4 292.7 L463.9 293.1 L464.4 293.5 L464.9 293.9 L465.4 294.31 L465.9 294.72 L466.4 295.13 L466.9 295.55 L467.4 295.97 L467.9 296.39 L468.4 296.81 L468.9 297.24 L469.4 297.67 L469.9 298.09 L470.4 298.52 L470.9 298.95 L471.4 299.37 L471.9 299.8 L472.4 300.22 L472.9 300.65 L473.4 301.07 L473.9 301.48 L474.4 301.9 L474.9 302.31 L475.4 302.72 L475.9 303.12 L476.4 303.52 L476.9 303.91 L477.4 304.3 L477.9 304.68 L478.4 305.06 L478.9 305.43 L479.4 305.8 L479.9 306.15 L480.4 306.51 L480.9 306.85 L481.4 307.19 L481.9 307.52 L482.4 307.85 L482.9 308.17 L483.4 308.48 L483.9 308.79 L484.4 309.09 L484.9 309.38 L485.4 309.67 L485.9 309.94 L486.4 310.21 L486.9 310.48 L487.4 310.73 L487.9 310.98 L488.4 311.22 L488.9 311.45 L489.4 311.67 L489.9 311.89 L490.4 312.1 L490.9 312.3 L491.4 312.49 L491.9 312.67 L492.4 312.84 L492.9 313.01 L493.4 313.16 L493.9 313.31 L494.4 313.45 L494.9 313.58 L495.4 313.7 L495.9 313.81 L496.4 313.91 L496.9 314.01 L497.4 314.09 L497.9 314.16 L498.4 314.23 L498.9 314.28 L499.4 314.33 L499.9 314.36 L500.4 314.38 L500.9 314.4 L501.4 314.4 L501.9 314.4 L502.4 314.38 L502.9 314.35 L503.4 314.32 L503.9 314.27 L504.4 314.22 L504.9 314.15 L505.4 314.08 L505.9 314 L506.4 313.91 L506.9 313.81 L507.4 313.7 L507.9 313.58 L508.4 313.46 L508.9 313.33 L509.4 313.19 L509.9 313.04 L510.4 312.89 L510.9 312.73 L511.4 312.56 L511.9 312.38 L512.4 312.2 L512.9 312.01 L513.4 311.81 L513.9 311.61 L514.4 311.4 L514.9 311.19 L515.4 310.97 L515.9 310.75 L516.4 310.51 L516.9 310.28 L517.4 310.04 L517.9 309.79 L518.4 309.54 L518.9 309.29 L519.4 309.03 L519.9 308.78 L520.4 308.51 L520.9 308.25 L521.4 307.98 L521.9 307.72 L522.4 307.45 L522.9 307.18 L523.4 306.91 L523.9 306.64 L524.4 306.37 L524.9 306.1 L525.4 305.83 L525.9 305.56 L526.4 305.3 L526.9 305.04 L527.4 304.78 L527.9 304.52 L528.4 304.27 L528.9 304.01 L529.4 303.77 L529.9 303.53 L530.4 303.29 L530.9 303.06 L531.4 302.83 L531.9 302.61 L532.4 302.39 L532.9 302.18 L533.4 301.98 L533.9 301.78 L534.4 301.6 L534.9 301.42 L535.4 301.24 L535.9 301.08 L536.4 300.92 L536.9 300.77 L537.4 300.63 L537.9 300.5 L538.4 300.37 L538.9 300.25 L539.4 300.15 L539.9 300.05 L540.4 299.96 L540.9 299.88 L541.4 299.8 L541.9 299.74 L542.4 299.69 L542.9 299.64 L543.4 299.61 L543.9 299.59 L544.4 299.57 L544.9 299.57 L545.4 299.58 L545.9 299.6 L546.4 299.62 L546.9 299.66 L547.4 299.71 L547.9 299.77 L548.4 299.84 L548.9 299.92 L549.4 300 L549.9 300.1 L550.4 300.2 L550.9 300.31 L551.4 300.43 L551.9 300.56 L552.4 300.7 L552.9 300.84 L553.4 300.99 L553.9 301.15 L554.4 301.31 L554.9 301.48 L555.4 301.65 L555.9 301.83 L556.4 302.02 L556.9 302.21 L557.4 302.4 L557.9 302.6 L558.4 302.8 L558.9 303.01 L559.4 303.22 L559.9 303.44 L560.4 303.65 L560.9 303.87 L561.4 304.1 L561.9 304.32 L562.4 304.55 L562.9 304.78 L563.4 305.01 L563.9 305.24 L564.4 305.47 L564.9 305.7 L565.4 305.93 L565.9 306.17 L566.4 306.4 L566.9 306.63 L567.4 306.86 L567.9 307.09 L568.4 307.32 L568.9 307.55 L569.4 307.78 L569.9 308 L570.4 308.23 L570.9 308.45 L571.4 308.67 L571.9 308.88 L572.4 309.1 L572.9 309.31 L573.4 309.52 L573.9 309.72 L574.4 309.92 L574.9 310.12 L575.4 310.32 L575.9 310.51 L576.4 310.69 L576.9 310.87 L577.4 311.05 L577.9 311.23 L578.4 311.39 L578.9 311.56 L579.4 311.72 L579.9 311.87 L580.4 312.02 L580.9 312.16 L581.4 312.29 L581.9 312.42 L582.4 312.54 L582.9 312.66 L583.4 312.77 L583.9 312.87 L584.4 312.97 L584.9 313.06 L585.4 313.14 L585.9 313.21 L586.4 313.28 L586.9 313.33 L587.4 313.38 L587.9 313.42 L588.4 313.46 L588.9 313.48 L589.4 313.49 L589.9 313.5 L590.4 313.5 L590.9 313.48 L591.4 313.46 L591.9 313.43 L592.4 313.39 L592.9 313.34 L593.4 313.28 L593.9 313.21 L594.4 313.14 L594.9 313.05 L595.4 312.96 L595.9 312.85 L596.4 312.74 L596.9 312.62 L597.4 312.5 L597.9 312.36 L598.4 312.22 L598.9 312.06 L599.4 311.9 L599.9 311.73 L600.4 311.56 L600.9 311.37 L601.4 311.18 L601.9 310.98 L602.4 310.78 L602.9 310.56 L603.4 310.34 L603.9 310.11 L604.4 309.87 L604.9 309.63 L605.4 309.38 L605.9 309.12 L606.4 308.86 L606.9 308.59 L607.4 308.31 L607.9 308.03 L608.4 307.74 L608.9 307.44 L609.4 307.14 L609.9 306.83 L610.4 306.52 L610.9 306.2 L611.4 305.87 L611.9 305.54 L612.4 305.2 L612.9 304.86 L613.4 304.51 L613.9 304.16 L614.4 303.8 L614.9 303.44 L615.4 303.07 L615.9 302.69 L616.4 302.32 L616.9 301.93 L617.4 301.55 L617.9 301.16 L618.4 300.77 L618.9 300.37 L619.4 299.97 L619.9 299.57 L620.4 299.17 L620.9 298.76 L621.4 298.36 L621.9 297.95 L622.4 297.54 L622.9 297.13 L623.4 296.72 L623.9 296.3 L624.4 295.89 L624.9 295.48 L625.4 295.07 L625.9 294.66 L626.4 294.25 L626.9 293.84 L627.4 293.43 L627.9 293.03 L628.4 292.62 L628.9 292.22 L629.4 291.82 L629.9 291.42 L630.4 291.03 L630.9 290.65 L631.4 290.27 L631.9 289.9 L632.4 289.53 L632.9 289.18 L633.4 288.83 L633.9 288.5 L634.4 288.18 L634.9 287.87 L635.4 287.57 L635.9 287.3 L636.4 287.03 L636.9 286.78 L637.4 286.55 L637.9 286.34 L638.4 286.15 L638.9 285.98 L639.4 285.83 L639.9 285.71 L640.4 285.6 L640.9 285.52 L641.4 285.47 L641.9 285.44 L642.4 285.44 L642.9 285.47 L643.4 285.53 L643.9 285.63 L644.4 285.75 L644.9 285.91 L645.4 286.11 L645.9 286.34 L646.4 286.61 L646.9 286.92 L647.4 287.28 L647.9 287.67 L648.4 288.11 L648.9 288.6 L649.4 289.13 L649.9 289.71 L650.4 290.33 L650.9 291 L651.4 291.72 L651.9 292.48 L652.4 293.29 L652.9 294.14 L653.4 295.04 L653.9 295.99 L654.4 296.97 L654.9 298.01 L655.4 299.08 L655.9 300.21 L656.4 301.37 L656.9 302.58 L657.4 303.83 L657.9 305.11 L658.4 306.44 L658.9 307.79 L659.4 309.18 L659.9 310.59 L660.4 312.03 L660.9 313.5 L661.4 314.98 L661.9 316.49 L662.4 318.01 L662.9 319.55 L663.4 321.1 L663.9 322.66 L664.4 324.23 L664.9 325.81 L665.4 327.41 L665.9 329.02 L666.4 330.64 L666.9 332.28 L667.4 333.94 L667.9 335.61 L668.4 337.31 L668.9 339.02 L669.4 340.75 L669.9 342.51 L670.4 344.28 L670.9 346.08 L671.4 347.91 L671.9 349.77 L672.4 351.65 L672.9 353.57 L673.4 355.53 L673.9 357.54 L674.4 359.58 L674.9 361.67 L675.4 363.81 L675.9 366.01 L676.4 368.26 L676.9 370.57 L677.4 372.93 L677.9 375.35 L678.4 377.81 L678.9 380.29 L679.4 382.8 L679.9 385.31 L680.4 387.83 L680.9 390.33 L681.4 392.81 L681.9 395.26 L682.4 397.67 L682.9 400.03 L683.4 402.33 L683.9 404.56 L684.4 406.72 L684.9 408.81 L685.4 410.89 L685.9 412.98 L686.4 415.11 L686.9 417.33 L687.4 419.67 L687.9 422.15 L688.4 424.82 L688.9 427.71 L689.4 430.85 L689.9 434.28 L690.4 437.99 L690.9 441.77 L691.4 445.26 L691.9 448.12 L692.4 450.03 L692.9 450.96 L693.4 451.26 L693.7 451.3" stroke="#2020ff" stroke-width="1.3" fill="none"/>
<path d="M397.9 458 L398.4 455.96 L398.9 453.94 L399.4 451.93 L399.9 449.95 L400.4 448 L400.9 446.11 L401.4 444.27 L401.9 442.48 L402.4 440.71 L402.9 438.93 L403.4 437.11 L403.9 435.21 L404.4 433.22 L404.9 431.09 L405.4 428.79 L405.9 426.3 L406.4 423.6 L406.9 420.72 L407.4 417.71 L407.9 414.63 L408.4 411.52 L408.9 408.43 L409.4 405.4 L409.9 402.48 L410.4 399.67 L410.9 396.95 L411.4 394.32 L411.9 391.79 L412.4 389.33 L412.9 386.95 L413.4 384.64 L413.9 382.39 L414.4 380.21 L414.9 378.08 L415.4 376 L415.9 373.96 L416.4 371.96 L416.9 370 L417.4 368.07 L417.9 366.16 L418.4 364.29 L418.9 362.44 L419.4 360.62 L419.9 358.84 L420.4 357.08 L420.9 355.36 L421.4 353.66 L421.9 352 L422.4 350.37 L422.9 348.77 L423.4 347.21 L423.9 345.68 L424.4 344.19 L424.9 342.74 L425.4 341.33 L425.9 339.96 L426.4 338.64 L426.9 337.36 L427.4 336.12 L427.9 334.93 L428.4 333.79 L428.9 332.7 L429.4 331.64 L429.9 330.63 L430.4 329.66 L430.9 328.72 L431.4 327.81 L431.9 326.92 L432.4 326.06 L432.9 325.23 L433.4 324.41 L433.9 323.6 L434.4 322.81 L434.9 322.03 L435.4 321.25 L435.9 320.48 L436.4 319.71 L436.9 318.95 L437.4 318.2 L437.9 317.45 L438.4 316.72 L438.9 316 L439.4 315.31 L439.9 314.63 L440.4 313.97 L440.9 313.34 L441.4 312.73 L441.9 312.15 L442.4 311.6 L442.9 311.09 L443.4 310.61 L443.9 310.17 L444.4 309.76 L444.9 309.4 L445.4 309.07 L445.9 308.78 L446.4 308.53 L446.9 308.31 L447.4 308.12 L447.9 307.96 L448.4 307.83 L448.9 307.73 L449.4 307.66 L449.9 307.61 L450.4 307.58 L450.9 307.57 L451.4 307.59 L451.9 307.63 L452.4 307.68 L452.9 307.76 L453.4 307.85 L453.9 307.96 L454.4 308.09 L454.9 308.24 L455.4 308.4 L455.9 308.57 L456.4 308.76 L456.9 308.96 L457.4 309.17 L457.9 309.39 L458.4 309.63 L458.9 309.87 L459.4 310.13 L459.9 310.39 L460.4 310.66 L460.9 310.94 L461.4 311.22 L461.9 311.51 L462.4 311.8 L462.9 312.1 L463.4 312.4 L463.9 312.7 L464.4 313.01 L464.9 313.32 L465.4 313.63 L465.9 313.94 L466.4 314.26 L466.9 314.57 L467.4 314.89 L467.9 315.21 L468.4 315.54 L468.9 315.86 L469.4 316.18 L469.9 316.5 L470.4 316.83 L470.9 317.15 L471.4 317.47 L471.9 317.8 L472.4 318.12 L472.9 318.44 L473.4 318.75 L473.9 319.07 L474.4 319.39 L474.9 319.7 L475.4 320.01 L475.9 320.31 L476.4 320.62 L476.9 320.92 L477.4 321.22 L477.9 321.51 L478.4 321.8 L478.9 322.09 L479.4 322.37 L479.9 322.65 L480.4 322.92 L480.9 323.18 L481.4 323.45 L481.9 323.7 L482.4 323.95 L482.9 324.2 L483.4 324.43 L483.9 324.66 L484.4 324.89 L484.9 325.11 L485.4 325.33 L485.9 325.53 L486.4 325.74 L486.9 325.93 L487.4 326.12 L487.9 326.31 L488.4 326.48 L488.9 326.66 L489.4 326.82 L489.9 326.98 L490.4 327.14 L490.9 327.28 L491.4 327.42 L491.9 327.56 L492.4 327.69 L492.9 327.81 L493.4 327.93 L493.9 328.03 L494.4 328.14 L494.9 328.24 L495.4 328.33 L495.9 328.41 L496.4 328.49 L496.9 328.56 L497.4 328.62 L497.9 328.68 L498.4 328.74 L498.9 328.78 L499.4 328.82 L499.9 328.85 L500.4 328.88 L500.9 328.9 L501.4 328.91 L501.9 328.92 L502.4 328.92 L502.9 328.91 L503.4 328.9 L503.9 328.88 L504.4 328.86 L504.9 328.83 L505.4 328.79 L505.9 328.75 L506.4 328.71 L506.9 328.66 L507.4 328.61 L507.9 328.55 L508.4 328.49 L508.9 328.42 L509.4 328.35 L509.9 328.28 L510.4 328.2 L510.9 328.12 L511.4 328.04 L511.9 327.95 L512.4 327.86 L512.9 327.77 L513.4 327.67 L513.9 327.58 L514.4 327.48 L514.9 327.38 L515.4 327.28 L515.9 327.17 L516.4 327.07 L516.9 326.96 L517.4 326.85 L517.9 326.75 L518.4 326.64 L518.9 326.53 L519.4 326.42 L519.9 326.31 L520.4 326.2 L520.9 326.09 L521.4 325.98 L521.9 325.87 L522.4 325.76 L522.9 325.65 L523.4 325.55 L523.9 325.44 L524.4 325.34 L524.9 325.24 L525.4 325.14 L525.9 325.04 L526.4 324.94 L526.9 324.85 L527.4 324.76 L527.9 324.67 L528.4 324.58 L528.9 324.49 L529.4 324.41 L529.9 324.32 L530.4 324.24 L530.9 324.17 L531.4 324.09 L531.9 324.02 L532.4 323.95 L532.9 323.88 L533.4 323.81 L533.9 323.75 L534.4 323.69 L534.9 323.63 L535.4 323.57 L535.9 323.52 L536.4 323.47 L536.9 323.42 L537.4 323.38 L537.9 323.34 L538.4 323.3 L538.9 323.26 L539.4 323.23 L539.9 323.2 L540.4 323.17 L540.9 323.15 L541.4 323.13 L541.9 323.11 L542.4 323.1 L542.9 323.09 L543.4 323.08 L543.9 323.08 L544.4 323.08 L544.9 323.08 L545.4 323.09 L545.9 323.1 L546.4 323.11 L546.9 323.13 L547.4 323.15 L547.9 323.18 L548.4 323.21 L548.9 323.24 L549.4 323.27 L549.9 323.31 L550.4 323.35 L550.9 323.39 L551.4 323.44 L551.9 323.49 L552.4 323.54 L552.9 323.6 L553.4 323.65 L553.9 323.71 L554.4 323.78 L554.9 323.84 L555.4 323.91 L555.9 323.97 L556.4 324.04 L556.9 324.11 L557.4 324.19 L557.9 324.26 L558.4 324.34 L558.9 324.42 L559.4 324.5 L559.9 324.58 L560.4 324.66 L560.9 324.74 L561.4 324.83 L561.9 324.91 L562.4 325 L562.9 325.08 L563.4 325.17 L563.9 325.26 L564.4 325.35 L564.9 325.43 L565.4 325.52 L565.9 325.61 L566.4 325.7 L566.9 325.79 L567.4 325.88 L567.9 325.97 L568.4 326.06 L568.9 326.14 L569.4 326.23 L569.9 326.32 L570.4 326.41 L570.9 326.49 L571.4 326.58 L571.9 326.67 L572.4 326.75 L572.9 326.84 L573.4 326.92 L573.9 327 L574.4 327.08 L574.9 327.17 L575.4 327.25 L575.9 327.33 L576.4 327.4 L576.9 327.48 L577.4 327.56 L577.9 327.63 L578.4 327.7 L578.9 327.78 L579.4 327.85 L579.9 327.92 L580.4 327.98 L580.9 328.05 L581.4 328.11 L581.9 328.18 L582.4 328.24 L582.9 328.3 L583.4 328.35 L583.9 328.41 L584.4 328.46 L584.9 328.51 L585.4 328.56 L585.9 328.61 L586.4 328.65 L586.9 328.69 L587.4 328.73 L587.9 328.77 L588.4 328.81 L588.9 328.84 L589.4 328.87 L589.9 328.89 L590.4 328.92 L590.9 328.94 L591.4 328.96 L591.9 328.97 L592.4 328.98 L592.9 328.99 L593.4 328.99 L593.9 328.98 L594.4 328.97 L594.9 328.95 L595.4 328.93 L595.9 328.89 L596.4 328.85 L596.9 328.81 L597.4 328.75 L597.9 328.68 L598.4 328.61 L598.9 328.52 L599.4 328.43 L599.9 328.32 L600.4 328.21 L600.9 328.08 L601.4 327.94 L601.9 327.79 L602.4 327.63 L602.9 327.46 L603.4 327.28 L603.9 327.1 L604.4 326.9 L604.9 326.69 L605.4 326.48 L605.9 326.26 L606.4 326.03 L606.9 325.79 L607.4 325.55 L607.9 325.29 L608.4 325.04 L608.9 324.77 L609.4 324.5 L609.9 324.23 L610.4 323.94 L610.9 323.66 L611.4 323.36 L611.9 323.07 L612.4 322.77 L612.9 322.46 L613.4 322.15 L613.9 321.84 L614.4 321.53 L614.9 321.21 L615.4 320.89 L615.9 320.56 L616.4 320.24 L616.9 319.91 L617.4 319.58 L617.9 319.25 L618.4 318.92 L618.9 318.59 L619.4 318.26 L619.9 317.92 L620.4 317.59 L620.9 317.26 L621.4 316.93 L621.9 316.6 L622.4 316.27 L622.9 315.95 L623.4 315.62 L623.9 315.3 L624.4 314.99 L624.9 314.67 L625.4 314.36 L625.9 314.05 L626.4 313.75 L626.9 313.45 L627.4 313.15 L627.9 312.87 L628.4 312.58 L628.9 312.31 L629.4 312.04 L629.9 311.77 L630.4 311.51 L630.9 311.27 L631.4 311.02 L631.9 310.79 L632.4 310.57 L632.9 310.35 L633.4 310.15 L633.9 309.95 L634.4 309.76 L634.9 309.59 L635.4 309.42 L635.9 309.27 L636.4 309.12 L636.9 308.99 L637.4 308.87 L637.9 308.76 L638.4 308.67 L638.9 308.59 L639.4 308.52 L639.9 308.47 L640.4 308.43 L640.9 308.41 L641.4 308.4 L641.9 308.4 L642.4 308.42 L642.9 308.46 L643.4 308.51 L643.9 308.58 L644.4 308.66 L644.9 308.77 L645.4 308.88 L645.9 309.02 L646.4 309.17 L646.9 309.33 L647.4 309.52 L647.9 309.72 L648.4 309.94 L648.9 310.18 L649.4 310.43 L649.9 310.71 L650.4 311 L650.9 311.31 L651.4 311.64 L651.9 312 L652.4 312.38 L652.9 312.78 L653.4 313.22 L653.9 313.69 L654.4 314.19 L654.9 314.74 L655.4 315.32 L655.9 315.94 L656.4 316.6 L656.9 317.31 L657.4 318.07 L657.9 318.88 L658.4 319.75 L658.9 320.66 L659.4 321.64 L659.9 322.68 L660.4 323.77 L660.9 324.93 L661.4 326.16 L661.9 327.44 L662.4 328.77 L662.9 330.15 L663.4 331.57 L663.9 333.04 L664.4 334.54 L664.9 336.07 L665.4 337.62 L665.9 339.2 L666.4 340.8 L666.9 342.41 L667.4 344.03 L667.9 345.65 L668.4 347.28 L668.9 348.92 L669.4 350.57 L669.9 352.25 L670.4 353.95 L670.9 355.68 L671.4 357.46 L671.9 359.28 L672.4 361.14 L672.9 363.07 L673.4 365.05 L673.9 367.1 L674.4 369.23 L674.9 371.43 L675.4 373.71 L675.9 376.04 L676.4 378.43 L676.9 380.85 L677.4 383.29 L677.9 385.75 L678.4 388.21 L678.9 390.66 L679.4 393.08 L679.9 395.47 L680.4 397.81 L680.9 400.09 L681.4 402.3 L681.9 404.42 L682.4 406.45 L682.9 408.42 L683.4 410.34 L683.9 412.25 L684.4 414.15 L684.9 416.08 L685.4 418.06 L685.9 420.11 L686.4 422.25 L686.9 424.51 L687.4 426.91 L687.9 429.47 L688.4 432.2 L688.9 435.08 L689.4 438.02 L689.9 440.97 L690.4 443.87 L690.9 446.63 L691.4 449.2 L691.9 451.62 L692.4 454.05 L692.9 456.67 L693.4 459.61 L693.7 461.5" stroke="#1a8a1a" stroke-width="1.3" fill="none"/>
<path d="M397.9 451.5 L398.4 450.57 L398.9 449.53 L399.4 448.28 L399.9 446.74 L400.4 444.98 L400.9 443.13 L401.4 441.34 L401.9 439.73 L402.4 438.31 L402.9 437.04 L403.4 435.89 L403.9 434.81 L404.4 433.76 L404.9 432.71 L405.4 431.6 L405.9 430.42 L406.4 429.11 L406.9 427.63 L407.4 425.95 L407.9 424.04 L408.4 421.93 L408.9 419.67 L409.4 417.27 L409.9 414.77 L410.4 412.21 L410.9 409.62 L411.4 407.03 L411.9 404.47 L412.4 401.96 L412.9 399.51 L413.4 397.1 L413.9 394.74 L414.4 392.43 L414.9 390.17 L415.4 387.96 L415.9 385.8 L416.4 383.69 L416.9 381.63 L417.4 379.62 L417.9 377.66 L418.4 375.75 L418.9 373.9 L419.4 372.1 L419.9 370.34 L420.4 368.64 L420.9 366.99 L421.4 365.39 L421.9 363.84 L422.4 362.32 L422.9 360.84 L423.4 359.41 L423.9 358 L424.4 356.63 L424.9 355.28 L425.4 353.97 L425.9 352.68 L426.4 351.43 L426.9 350.2 L427.4 348.99 L427.9 347.81 L428.4 346.66 L428.9 345.54 L429.4 344.44 L429.9 343.36 L430.4 342.31 L430.9 341.28 L431.4 340.27 L431.9 339.29 L432.4 338.33 L432.9 337.39 L433.4 336.48 L433.9 335.59 L434.4 334.72 L434.9 333.87 L435.4 333.04 L435.9 332.24 L436.4 331.46 L436.9 330.7 L437.4 329.96 L437.9 329.24 L438.4 328.55 L438.9 327.88 L439.4 327.23 L439.9 326.6 L440.4 326 L440.9 325.42 L441.4 324.87 L441.9 324.34 L442.4 323.83 L442.9 323.35 L443.4 322.9 L443.9 322.47 L444.4 322.06 L444.9 321.68 L445.4 321.33 L445.9 321 L446.4 320.7 L446.9 320.43 L447.4 320.18 L447.9 319.96 L448.4 319.77 L448.9 319.61 L449.4 319.47 L449.9 319.36 L450.4 319.29 L450.9 319.24 L451.4 319.21 L451.9 319.22 L452.4 319.25 L452.9 319.3 L453.4 319.38 L453.9 319.48 L454.4 319.6 L454.9 319.74 L455.4 319.9 L455.9 320.08 L456.4 320.28 L456.9 320.49 L457.4 320.72 L457.9 320.96 L458.4 321.22 L458.9 321.48 L459.4 321.76 L459.9 322.05 L460.4 322.34 L460.9 322.65 L461.4 322.96 L461.9 323.28 L462.4 323.6 L462.9 323.93 L463.4 324.26 L463.9 324.59 L464.4 324.92 L464.9 325.26 L465.4 325.6 L465.9 325.94 L466.4 326.29 L466.9 326.64 L467.4 326.98 L467.9 327.33 L468.4 327.68 L468.9 328.03 L469.4 328.38 L469.9 328.73 L470.4 329.08 L470.9 329.44 L471.4 329.78 L471.9 330.13 L472.4 330.48 L472.9 330.83 L473.4 331.17 L473.9 331.51 L474.4 331.85 L474.9 332.19 L475.4 332.53 L475.9 332.86 L476.4 333.19 L476.9 333.51 L477.4 333.83 L477.9 334.15 L478.4 334.46 L478.9 334.77 L479.4 335.07 L479.9 335.37 L480.4 335.67 L480.9 335.95 L481.4 336.23 L481.9 336.51 L482.4 336.78 L482.9 337.04 L483.4 337.3 L483.9 337.55 L484.4 337.79 L484.9 338.03 L485.4 338.26 L485.9 338.48 L486.4 338.7 L486.9 338.91 L487.4 339.12 L487.9 339.32 L488.4 339.51 L488.9 339.7 L489.4 339.88 L489.9 340.05 L490.4 340.22 L490.9 340.38 L491.4 340.53 L491.9 340.67 L492.4 340.81 L492.9 340.95 L493.4 341.07 L493.9 341.2 L494.4 341.31 L494.9 341.42 L495.4 341.52 L495.9 341.61 L496.4 341.7 L496.9 341.78 L497.4 341.85 L497.9 341.91 L498.4 341.97 L498.9 342.03 L499.4 342.07 L499.9 342.11 L500.4 342.14 L500.9 342.17 L501.4 342.19 L501.9 342.2 L502.4 342.2 L502.9 342.2 L503.4 342.19 L503.9 342.18 L504.4 342.16 L504.9 342.13 L505.4 342.09 L505.9 342.05 L506.4 342 L506.9 341.95 L507.4 341.89 L507.9 341.83 L508.4 341.76 L508.9 341.69 L509.4 341.61 L509.9 341.53 L510.4 341.44 L510.9 341.35 L511.4 341.26 L511.9 341.16 L512.4 341.06 L512.9 340.96 L513.4 340.85 L513.9 340.74 L514.4 340.63 L514.9 340.51 L515.4 340.39 L515.9 340.28 L516.4 340.15 L516.9 340.03 L517.4 339.91 L517.9 339.78 L518.4 339.66 L518.9 339.53 L519.4 339.4 L519.9 339.28 L520.4 339.15 L520.9 339.02 L521.4 338.89 L521.9 338.77 L522.4 338.64 L522.9 338.52 L523.4 338.39 L523.9 338.27 L524.4 338.15 L524.9 338.03 L525.4 337.91 L525.9 337.79 L526.4 337.68 L526.9 337.57 L527.4 337.46 L527.9 337.35 L528.4 337.24 L528.9 337.14 L529.4 337.04 L529.9 336.94 L530.4 336.84 L530.9 336.75 L531.4 336.66 L531.9 336.57 L532.4 336.48 L532.9 336.4 L533.4 336.32 L533.9 336.24 L534.4 336.17 L534.9 336.09 L535.4 336.02 L535.9 335.96 L536.4 335.9 L536.9 335.84 L537.4 335.78 L537.9 335.73 L538.4 335.68 L538.9 335.63 L539.4 335.59 L539.9 335.55 L540.4 335.52 L540.9 335.49 L541.4 335.46 L541.9 335.44 L542.4 335.42 L542.9 335.4 L543.4 335.39 L543.9 335.38 L544.4 335.38 L544.9 335.38 L545.4 335.39 L545.9 335.4 L546.4 335.41 L546.9 335.43 L547.4 335.45 L547.9 335.48 L548.4 335.51 L548.9 335.55 L549.4 335.59 L549.9 335.63 L550.4 335.68 L550.9 335.73 L551.4 335.78 L551.9 335.84 L552.4 335.9 L552.9 335.97 L553.4 336.03 L553.9 336.1 L554.4 336.18 L554.9 336.25 L555.4 336.33 L555.9 336.41 L556.4 336.5 L556.9 336.59 L557.4 336.68 L557.9 336.77 L558.4 336.86 L558.9 336.96 L559.4 337.06 L559.9 337.16 L560.4 337.26 L560.9 337.36 L561.4 337.47 L561.9 337.58 L562.4 337.69 L562.9 337.8 L563.4 337.91 L563.9 338.02 L564.4 338.13 L564.9 338.25 L565.4 338.37 L565.9 338.48 L566.4 338.6 L566.9 338.72 L567.4 338.84 L567.9 338.96 L568.4 339.08 L568.9 339.19 L569.4 339.31 L569.9 339.43 L570.4 339.55 L570.9 339.67 L571.4 339.78 L571.9 339.9 L572.4 340.01 L572.9 340.12 L573.4 340.23 L573.9 340.34 L574.4 340.45 L574.9 340.55 L575.4 340.65 L575.9 340.75 L576.4 340.85 L576.9 340.94 L577.4 341.03 L577.9 341.11 L578.4 341.19 L578.9 341.27 L579.4 341.35 L579.9 341.42 L580.4 341.48 L580.9 341.54 L581.4 341.6 L581.9 341.65 L582.4 341.69 L582.9 341.73 L583.4 341.77 L583.9 341.8 L584.4 341.82 L584.9 341.84 L585.4 341.85 L585.9 341.85 L586.4 341.85 L586.9 341.84 L587.4 341.82 L587.9 341.8 L588.4 341.77 L588.9 341.73 L589.4 341.68 L589.9 341.63 L590.4 341.57 L590.9 341.5 L591.4 341.43 L591.9 341.35 L592.4 341.26 L592.9 341.16 L593.4 341.06 L593.9 340.95 L594.4 340.84 L594.9 340.71 L595.4 340.58 L595.9 340.45 L596.4 340.31 L596.9 340.16 L597.4 340 L597.9 339.84 L598.4 339.68 L598.9 339.5 L599.4 339.32 L599.9 339.14 L600.4 338.95 L600.9 338.75 L601.4 338.55 L601.9 338.34 L602.4 338.12 L602.9 337.9 L603.4 337.68 L603.9 337.45 L604.4 337.22 L604.9 336.98 L605.4 336.73 L605.9 336.48 L606.4 336.23 L606.9 335.97 L607.4 335.71 L607.9 335.44 L608.4 335.17 L608.9 334.89 L609.4 334.61 L609.9 334.33 L610.4 334.04 L610.9 333.75 L611.4 333.46 L611.9 333.16 L612.4 332.86 L612.9 332.56 L613.4 332.25 L613.9 331.94 L614.4 331.63 L614.9 331.32 L615.4 331 L615.9 330.68 L616.4 330.36 L616.9 330.03 L617.4 329.71 L617.9 329.38 L618.4 329.05 L618.9 328.72 L619.4 328.38 L619.9 328.05 L620.4 327.71 L620.9 327.37 L621.4 327.04 L621.9 326.7 L622.4 326.36 L622.9 326.01 L623.4 325.67 L623.9 325.33 L624.4 325 L624.9 324.66 L625.4 324.33 L625.9 324 L626.4 323.67 L626.9 323.35 L627.4 323.03 L627.9 322.72 L628.4 322.41 L628.9 322.11 L629.4 321.82 L629.9 321.53 L630.4 321.25 L630.9 320.98 L631.4 320.72 L631.9 320.47 L632.4 320.23 L632.9 320 L633.4 319.78 L633.9 319.58 L634.4 319.38 L634.9 319.2 L635.4 319.03 L635.9 318.88 L636.4 318.74 L636.9 318.61 L637.4 318.5 L637.9 318.41 L638.4 318.33 L638.9 318.27 L639.4 318.23 L639.9 318.21 L640.4 318.2 L640.9 318.21 L641.4 318.25 L641.9 318.3 L642.4 318.37 L642.9 318.46 L643.4 318.57 L643.9 318.7 L644.4 318.85 L644.9 319.02 L645.4 319.2 L645.9 319.41 L646.4 319.63 L646.9 319.88 L647.4 320.14 L647.9 320.42 L648.4 320.72 L648.9 321.03 L649.4 321.37 L649.9 321.73 L650.4 322.11 L650.9 322.52 L651.4 322.95 L651.9 323.42 L652.4 323.93 L652.9 324.47 L653.4 325.05 L653.9 325.67 L654.4 326.34 L654.9 327.06 L655.4 327.83 L655.9 328.66 L656.4 329.54 L656.9 330.48 L657.4 331.48 L657.9 332.55 L658.4 333.68 L658.9 334.86 L659.4 336.09 L659.9 337.35 L660.4 338.65 L660.9 339.96 L661.4 341.29 L661.9 342.62 L662.4 343.95 L662.9 345.26 L663.4 346.56 L663.9 347.85 L664.4 349.14 L664.9 350.42 L665.4 351.72 L665.9 353.02 L666.4 354.35 L666.9 355.71 L667.4 357.09 L667.9 358.52 L668.4 359.99 L668.9 361.51 L669.4 363.09 L669.9 364.73 L670.4 366.44 L670.9 368.23 L671.4 370.1 L671.9 372.06 L672.4 374.09 L672.9 376.19 L673.4 378.36 L673.9 380.58 L674.4 382.84 L674.9 385.13 L675.4 387.45 L675.9 389.78 L676.4 392.11 L676.9 394.45 L677.4 396.77 L677.9 399.07 L678.4 401.33 L678.9 403.56 L679.4 405.74 L679.9 407.87 L680.4 409.97 L680.9 412.04 L681.4 414.09 L681.9 416.13 L682.4 418.16 L682.9 420.2 L683.4 422.25 L683.9 424.33 L684.4 426.43 L684.9 428.57 L685.4 430.75 L685.9 432.95 L686.4 435.15 L686.9 437.31 L687.4 439.4 L687.9 441.39 L688.4 443.25 L688.9 444.95 L689.4 446.46 L689.9 447.75 L690.4 448.79 L690.9 449.59 L691.4 450.18 L691.9 450.61 L692.4 450.9 L692.9 451.09 L693.4 451.23 L693.7 451.3" stroke="#ff2020" stroke-width="1.3" fill="none"/>
<rect x="397.9" y="266" width="295.8" height="197.3" fill="none" stroke="#7a7a7a" stroke-width="1"/>
<path d="M397.9 463.3 v-3.3 M397.9 266 v3.3 M447.2 463.3 v-3.3 M447.2 266 v3.3 M496.5 463.3 v-3.3 M496.5 266 v3.3 M545.8 463.3 v-3.3 M545.8 266 v3.3 M595.1 463.3 v-3.3 M595.1 266 v3.3 M644.4 463.3 v-3.3 M644.4 266 v3.3 M693.7 463.3 v-3.3 M693.7 266 v3.3 M397.9 266 h3.3 M693.7 266 h-3.3 M397.9 298.88 h3.3 M693.7 298.88 h-3.3 M397.9 331.77 h3.3 M693.7 331.77 h-3.3 M397.9 364.65 h3.3 M693.7 364.65 h-3.3 M397.9 397.53 h3.3 M693.7 397.53 h-3.3 M397.9 430.42 h3.3 M693.7 430.42 h-3.3 M397.9 463.3 h3.3 M693.7 463.3 h-3.3" stroke="#505050" stroke-width="1" fill="none"/>
<rect x="401.3" y="427.3" width="69" height="32.7" fill="#fff" stroke="#808080" stroke-width="1"/>
<path d="M405.7 433.1 H415.9" stroke="#2020ff" stroke-width="1.3"/>
<text x="422.8" y="435.7" font-size="7.4" text-anchor="start" textLength="34.2" lengthAdjust="spacingAndGlyphs" fill="#222">234-468 d</text>
<path d="M405.7 443.2 H415.9" stroke="#1a8a1a" stroke-width="1.3"/>
<text x="422.8" y="445.8" font-size="7.4" text-anchor="start" textLength="38.8" lengthAdjust="spacingAndGlyphs" fill="#222">936-1170 d</text>
<path d="M405.7 453.2 H415.9" stroke="#ff2020" stroke-width="1.3"/>
<text x="422.8" y="455.8" font-size="7.4" text-anchor="start" textLength="42.8" lengthAdjust="spacingAndGlyphs" fill="#222">1638-1872 d</text>
<g>
<text x="193.6" y="19.7" font-size="12" text-anchor="middle" textLength="106.8" lengthAdjust="spacingAndGlyphs" fill="#222">p=3.e3 Pa, z~70 km</text>
<text x="545.8" y="20.8" font-size="12" text-anchor="middle" textLength="106.8" lengthAdjust="spacingAndGlyphs" fill="#222">p=3.e3 Pa, z~70 km</text>
<text x="194.5" y="264.1" font-size="12" text-anchor="middle" textLength="106.8" lengthAdjust="spacingAndGlyphs" fill="#222">p=3.e3 Pa, z~70 km</text>
<text x="545.8" y="264.2" font-size="12" text-anchor="middle" textLength="106.8" lengthAdjust="spacingAndGlyphs" fill="#222">p=3.e3 Pa, z~70 km</text>
<text x="45.6" y="230.6" font-size="9.8" text-anchor="middle" textLength="17.4" lengthAdjust="spacingAndGlyphs" fill="#222">−90</text>
<text x="94.93" y="230.6" font-size="9.8" text-anchor="middle" textLength="17.4" lengthAdjust="spacingAndGlyphs" fill="#222">−60</text>
<text x="144.27" y="230.6" font-size="9.8" text-anchor="middle" textLength="17.4" lengthAdjust="spacingAndGlyphs" fill="#222">−30</text>
<text x="193.6" y="230.6" font-size="9.8" text-anchor="middle" textLength="5.25" lengthAdjust="spacingAndGlyphs" fill="#222">0</text>
<text x="242.93" y="230.6" font-size="9.8" text-anchor="middle" textLength="10.5" lengthAdjust="spacingAndGlyphs" fill="#222">30</text>
<text x="292.27" y="230.6" font-size="9.8" text-anchor="middle" textLength="10.5" lengthAdjust="spacingAndGlyphs" fill="#222">60</text>
<text x="341.6" y="230.6" font-size="9.8" text-anchor="middle" textLength="10.5" lengthAdjust="spacingAndGlyphs" fill="#222">90</text>
<text x="193.6" y="240.8" font-size="9.8" text-anchor="middle" textLength="36.6" lengthAdjust="spacingAndGlyphs" fill="#222">Latitude</text>
<text x="397.9" y="231.5" font-size="9.8" text-anchor="middle" textLength="17.4" lengthAdjust="spacingAndGlyphs" fill="#222">−90</text>
<text x="447.2" y="231.5" font-size="9.8" text-anchor="middle" textLength="17.4" lengthAdjust="spacingAndGlyphs" fill="#222">−60</text>
<text x="496.5" y="231.5" font-size="9.8" text-anchor="middle" textLength="17.4" lengthAdjust="spacingAndGlyphs" fill="#222">−30</text>
<text x="545.8" y="231.5" font-size="9.8" text-anchor="middle" textLength="5.25" lengthAdjust="spacingAndGlyphs" fill="#222">0</text>
<text x="595.1" y="231.5" font-size="9.8" text-anchor="middle" textLength="10.5" lengthAdjust="spacingAndGlyphs" fill="#222">30</text>
<text x="644.4" y="231.5" font-size="9.8" text-anchor="middle" textLength="10.5" lengthAdjust="spacingAndGlyphs" fill="#222">60</text>
<text x="693.7" y="231.5" font-size="9.8" text-anchor="middle" textLength="10.5" lengthAdjust="spacingAndGlyphs" fill="#222">90</text>
<text x="545.8" y="241.7" font-size="9.8" text-anchor="middle" textLength="36.6" lengthAdjust="spacingAndGlyphs" fill="#222">Latitude</text>
<text x="46.5" y="474.5" font-size="9.8" text-anchor="middle" textLength="17.4" lengthAdjust="spacingAndGlyphs" fill="#222">−90</text>
<text x="95.83" y="474.5" font-size="9.8" text-anchor="middle" textLength="17.4" lengthAdjust="spacingAndGlyphs" fill="#222">−60</text>
<text x="145.17" y="474.5" font-size="9.8" text-anchor="middle" textLength="17.4" lengthAdjust="spacingAndGlyphs" fill="#222">−30</text>
<text x="194.5" y="474.5" font-size="9.8" text-anchor="middle" textLength="5.25" lengthAdjust="spacingAndGlyphs" fill="#222">0</text>
<text x="243.83" y="474.5" font-size="9.8" text-anchor="middle" textLength="10.5" lengthAdjust="spacingAndGlyphs" fill="#222">30</text>
<text x="293.17" y="474.5" font-size="9.8" text-anchor="middle" textLength="10.5" lengthAdjust="spacingAndGlyphs" fill="#222">60</text>
<text x="342.5" y="474.5" font-size="9.8" text-anchor="middle" textLength="10.5" lengthAdjust="spacingAndGlyphs" fill="#222">90</text>
<text x="194.5" y="484.7" font-size="9.8" text-anchor="middle" textLength="36.6" lengthAdjust="spacingAndGlyphs" fill="#222">Latitude</text>
<text x="397.9" y="474.5" font-size="9.8" text-anchor="middle" textLength="17.4" lengthAdjust="spacingAndGlyphs" fill="#222">−90</text>
<text x="447.2" y="474.5" font-size="9.8" text-anchor="middle" textLength="17.4" lengthAdjust="spacingAndGlyphs" fill="#222">−60</text>
<text x="496.5" y="474.5" font-size="9.8" text-anchor="middle" textLength="17.4" lengthAdjust="spacingAndGlyphs" fill="#222">−30</text>
<text x="545.8" y="474.5" font-size="9.8" text-anchor="middle" textLength="5.25" lengthAdjust="spacingAndGlyphs" fill="#222">0</text>
<text x="595.1" y="474.5" font-size="9.8" text-anchor="middle" textLength="10.5" lengthAdjust="spacingAndGlyphs" fill="#222">30</text>
<text x="644.4" y="474.5" font-size="9.8" text-anchor="middle" textLength="10.5" lengthAdjust="spacingAndGlyphs" fill="#222">60</text>
<text x="693.7" y="474.5" font-size="9.8" text-anchor="middle" textLength="10.5" lengthAdjust="spacingAndGlyphs" fill="#222">90</text>
<text x="545.8" y="484.7" font-size="9.8" text-anchor="middle" textLength="36.6" lengthAdjust="spacingAndGlyphs" fill="#222">Latitude</text>
<text x="42.4" y="24.6" font-size="9.8" text-anchor="end" textLength="5.25" lengthAdjust="spacingAndGlyphs" fill="#222">8</text>
<text x="42.4" y="49.33" font-size="9.8" text-anchor="end" textLength="5.25" lengthAdjust="spacingAndGlyphs" fill="#222">6</text>
<text x="42.4" y="74.05" font-size="9.8" text-anchor="end" textLength="5.25" lengthAdjust="spacingAndGlyphs" fill="#222">4</text>
<text x="42.4" y="98.78" font-size="9.8" text-anchor="end" textLength="5.25" lengthAdjust="spacingAndGlyphs" fill="#222">2</text>
<text x="42.4" y="123.5" font-size="9.8" text-anchor="end" textLength="5.25" lengthAdjust="spacingAndGlyphs" fill="#222">0</text>
<text x="42.4" y="148.22" font-size="9.8" text-anchor="end" textLength="12.15" lengthAdjust="spacingAndGlyphs" fill="#222">−2</text>
<text x="42.4" y="172.95" font-size="9.8" text-anchor="end" textLength="12.15" lengthAdjust="spacingAndGlyphs" fill="#222">−4</text>
<text x="42.4" y="197.68" font-size="9.8" text-anchor="end" textLength="12.15" lengthAdjust="spacingAndGlyphs" fill="#222">−6</text>
<text x="42.4" y="222.4" font-size="9.8" text-anchor="end" textLength="12.15" lengthAdjust="spacingAndGlyphs" fill="#222">−8</text>
<text x="394.3" y="25.9" font-size="9.8" text-anchor="end" textLength="15.75" lengthAdjust="spacingAndGlyphs" fill="#222">230</text>
<text x="394.3" y="65.38" font-size="9.8" text-anchor="end" textLength="15.75" lengthAdjust="spacingAndGlyphs" fill="#222">225</text>
<text x="394.3" y="104.86" font-size="9.8" text-anchor="end" textLength="15.75" lengthAdjust="spacingAndGlyphs" fill="#222">220</text>
<text x="394.3" y="144.34" font-size="9.8" text-anchor="end" textLength="15.75" lengthAdjust="spacingAndGlyphs" fill="#222">215</text>
<text x="394.3" y="183.82" font-size="9.8" text-anchor="end" textLength="15.75" lengthAdjust="spacingAndGlyphs" fill="#222">210</text>
<text x="394.3" y="223.3" font-size="9.8" text-anchor="end" textLength="15.75" lengthAdjust="spacingAndGlyphs" fill="#222">205</text>
<text x="42.7" y="269" font-size="9.8" text-anchor="end" textLength="23.6" lengthAdjust="spacingAndGlyphs" fill="#222">0.004</text>
<text x="42.7" y="301.88" font-size="9.8" text-anchor="end" textLength="23.6" lengthAdjust="spacingAndGlyphs" fill="#222">0.003</text>
<text x="42.7" y="334.77" font-size="9.8" text-anchor="end" textLength="23.6" lengthAdjust="spacingAndGlyphs" fill="#222">0.002</text>
<text x="42.7" y="367.65" font-size="9.8" text-anchor="end" textLength="23.6" lengthAdjust="spacingAndGlyphs" fill="#222">0.001</text>
<text x="42.7" y="400.53" font-size="9.8" text-anchor="end" textLength="23.6" lengthAdjust="spacingAndGlyphs" fill="#222">0.000</text>
<text x="42.7" y="433.42" font-size="9.8" text-anchor="end" textLength="30.5" lengthAdjust="spacingAndGlyphs" fill="#222">−0.001</text>
<text x="42.7" y="466.3" font-size="9.8" text-anchor="end" textLength="30.5" lengthAdjust="spacingAndGlyphs" fill="#222">−0.002</text>
<text x="394.3" y="269" font-size="9.8" text-anchor="end" textLength="15.75" lengthAdjust="spacingAndGlyphs" fill="#222">120</text>
<text x="394.3" y="301.88" font-size="9.8" text-anchor="end" textLength="15.75" lengthAdjust="spacingAndGlyphs" fill="#222">100</text>
<text x="394.3" y="334.77" font-size="9.8" text-anchor="end" textLength="10.5" lengthAdjust="spacingAndGlyphs" fill="#222">80</text>
<text x="394.3" y="367.65" font-size="9.8" text-anchor="end" textLength="10.5" lengthAdjust="spacingAndGlyphs" fill="#222">60</text>
<text x="394.3" y="400.53" font-size="9.8" text-anchor="end" textLength="10.5" lengthAdjust="spacingAndGlyphs" fill="#222">40</text>
<text x="394.3" y="433.42" font-size="9.8" text-anchor="end" textLength="10.5" lengthAdjust="spacingAndGlyphs" fill="#222">20</text>
<text x="394.3" y="466.3" font-size="9.8" text-anchor="end" textLength="5.25" lengthAdjust="spacingAndGlyphs" fill="#222">0</text>
<text x="25.8" y="120.6" font-size="9.8" text-anchor="middle" textLength="82.8" lengthAdjust="spacingAndGlyphs" transform="rotate(-90 25.8 120.6)" fill="#222">Heating rates (K/d)</text>
<text x="374.4" y="121.8" font-size="9.8" text-anchor="middle" textLength="71.3" lengthAdjust="spacingAndGlyphs" transform="rotate(-90 374.4 121.8)" fill="#222">Temperature (K)</text>
<text x="8" y="364.5" font-size="9.8" text-anchor="middle" textLength="83.3" lengthAdjust="spacingAndGlyphs" transform="rotate(-90 8 364.5)" fill="#222">Vertical wind (Pa/s)</text>
<text x="374.6" y="364.3" font-size="9.8" text-anchor="middle" textLength="72.8" lengthAdjust="spacingAndGlyphs" transform="rotate(-90 374.6 364.3)" fill="#222">Zonal wind (m/s)</text>
</g>
<g font-family="'Liberation Sans', sans-serif" font-weight="bold" font-size="25.5">
<text x="1.3" y="19.7" font-size="27" textLength="13.6" lengthAdjust="spacingAndGlyphs" style="font-family:'Liberation Sans',sans-serif">a</text>
<text x="357.2" y="19.6" style="font-family:'Liberation Sans',sans-serif">b</text>
<text x="1.5" y="260.8" style="font-family:'Liberation Sans',sans-serif">c</text>
<text x="355.8" y="260.5" style="font-family:'Liberation Sans',sans-serif">d</text>
</g>
</svg></body></html>
